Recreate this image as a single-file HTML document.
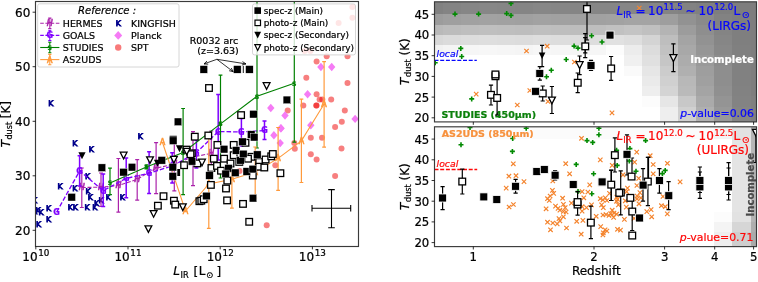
<!DOCTYPE html><html><head><meta charset="utf-8"><title>Tdust</title><style>html,body{margin:0;padding:0;background:#fff}svg{display:block}</style></head><body><svg width="758" height="282" viewBox="0 0 758 282" font-family="'DejaVu Sans','Liberation Sans',sans-serif">
<rect width="758" height="282" fill="#fff"/>
<defs><clipPath id="cl"><rect x="35.5" y="1.5" width="323.0" height="245.0"/></clipPath></defs>
<g clip-path="url(#cl)">
<circle cx="352.4" cy="7.1" r="3.0" fill="#f00000" fill-opacity="0.50"/>
<circle cx="352.4" cy="17.7" r="3.0" fill="#f00000" fill-opacity="0.50"/>
<circle cx="338.6" cy="23.0" r="3.0" fill="#f00000" fill-opacity="0.50"/>
<circle cx="304.6" cy="51.0" r="3.0" fill="#f00000" fill-opacity="0.50"/>
<circle cx="310.4" cy="51.0" r="3.0" fill="#f00000" fill-opacity="0.50"/>
<circle cx="326.7" cy="56.3" r="3.0" fill="#f00000" fill-opacity="0.50"/>
<circle cx="347.5" cy="56.3" r="3.0" fill="#f00000" fill-opacity="0.50"/>
<circle cx="316.6" cy="61.6" r="3.0" fill="#f00000" fill-opacity="0.50"/>
<circle cx="306.3" cy="77.8" r="3.0" fill="#f00000" fill-opacity="0.50"/>
<circle cx="347.5" cy="83.1" r="3.0" fill="#f00000" fill-opacity="0.50"/>
<circle cx="316.6" cy="94.2" r="3.0" fill="#f00000" fill-opacity="0.50"/>
<circle cx="319.6" cy="99.5" r="3.0" fill="#f00000" fill-opacity="0.50"/>
<circle cx="322.3" cy="99.5" r="3.0" fill="#f00000" fill-opacity="0.50"/>
<circle cx="331.2" cy="99.5" r="3.0" fill="#f00000" fill-opacity="0.50"/>
<circle cx="303.3" cy="105.4" r="3.0" fill="#f00000" fill-opacity="0.50"/>
<circle cx="316.6" cy="105.4" r="3.0" fill="#f00000" fill-opacity="0.50"/>
<circle cx="316.2" cy="105.6" r="3.0" fill="#f00000" fill-opacity="0.50"/>
<circle cx="287.7" cy="110.5" r="3.0" fill="#f00000" fill-opacity="0.50"/>
<circle cx="344.8" cy="110.5" r="3.0" fill="#f00000" fill-opacity="0.50"/>
<circle cx="341.8" cy="121.7" r="3.0" fill="#f00000" fill-opacity="0.50"/>
<circle cx="335.1" cy="127.0" r="3.0" fill="#f00000" fill-opacity="0.50"/>
<circle cx="310.8" cy="137.7" r="3.0" fill="#f00000" fill-opacity="0.50"/>
<circle cx="322.0" cy="137.7" r="3.0" fill="#f00000" fill-opacity="0.50"/>
<circle cx="294.3" cy="143.0" r="3.0" fill="#f00000" fill-opacity="0.50"/>
<circle cx="294.8" cy="148.7" r="3.0" fill="#f00000" fill-opacity="0.50"/>
<circle cx="341.5" cy="148.4" r="3.0" fill="#f00000" fill-opacity="0.50"/>
<circle cx="310.8" cy="154.2" r="3.0" fill="#f00000" fill-opacity="0.50"/>
<circle cx="316.6" cy="159.4" r="3.0" fill="#f00000" fill-opacity="0.50"/>
<circle cx="275.3" cy="165.2" r="3.0" fill="#f00000" fill-opacity="0.50"/>
<circle cx="335.1" cy="176.0" r="3.0" fill="#f00000" fill-opacity="0.50"/>
<circle cx="239.6" cy="171.0" r="3.0" fill="#f00000" fill-opacity="0.50"/>
<circle cx="266.7" cy="225.2" r="3.0" fill="#f00000" fill-opacity="0.50"/>
<path d="M320.9 62.8l3.7 4.2l-3.7 4.2l-3.7 -4.2z" fill="#f57bf5"/>
<path d="M331.7 62.8l3.7 4.2l-3.7 4.2l-3.7 -4.2z" fill="#f57bf5"/>
<path d="M307.6 90.0l3.7 4.2l-3.7 4.2l-3.7 -4.2z" fill="#f57bf5"/>
<path d="M270.8 103.8l3.7 4.2l-3.7 4.2l-3.7 -4.2z" fill="#f57bf5"/>
<path d="M285.0 111.3l3.7 4.2l-3.7 4.2l-3.7 -4.2z" fill="#f57bf5"/>
<path d="M281.0 124.0l3.7 4.2l-3.7 4.2l-3.7 -4.2z" fill="#f57bf5"/>
<path d="M310.8 121.0l3.7 4.2l-3.7 4.2l-3.7 -4.2z" fill="#f57bf5"/>
<path d="M355.1 114.7l3.7 4.2l-3.7 4.2l-3.7 -4.2z" fill="#f57bf5"/>
<path d="M273.9 131.1l3.7 4.2l-3.7 4.2l-3.7 -4.2z" fill="#f57bf5"/>
<path d="M280.2 138.9l3.7 4.2l-3.7 4.2l-3.7 -4.2z" fill="#f57bf5"/>
<path d="M280.8 124.2l3.7 4.2l-3.7 4.2l-3.7 -4.2z" fill="#f57bf5"/>
<text x="50.7" y="105.6" font-size="7.8" fill="#00008b" stroke="#00008b" stroke-width="0.85" text-anchor="middle">K</text>
<text x="74.7" y="146.2" font-size="7.8" fill="#00008b" stroke="#00008b" stroke-width="0.85" text-anchor="middle">K</text>
<text x="91.2" y="152.3" font-size="7.8" fill="#00008b" stroke="#00008b" stroke-width="0.85" text-anchor="middle">K</text>
<text x="87.6" y="178.8" font-size="7.8" fill="#00008b" stroke="#00008b" stroke-width="0.85" text-anchor="middle">K</text>
<text x="60.0" y="189.4" font-size="7.8" fill="#00008b" stroke="#00008b" stroke-width="0.85" text-anchor="middle">K</text>
<text x="74.7" y="191.2" font-size="7.8" fill="#00008b" stroke="#00008b" stroke-width="0.85" text-anchor="middle">K</text>
<text x="88.0" y="194.3" font-size="7.8" fill="#00008b" stroke="#00008b" stroke-width="0.85" text-anchor="middle">K</text>
<text x="90.3" y="200.3" font-size="7.8" fill="#00008b" stroke="#00008b" stroke-width="0.85" text-anchor="middle">K</text>
<text x="101.0" y="203.2" font-size="7.8" fill="#00008b" stroke="#00008b" stroke-width="0.85" text-anchor="middle">K</text>
<text x="108.4" y="200.2" font-size="7.8" fill="#00008b" stroke="#00008b" stroke-width="0.85" text-anchor="middle">K</text>
<text x="122.2" y="199.7" font-size="7.8" fill="#00008b" stroke="#00008b" stroke-width="0.85" text-anchor="middle">K</text>
<text x="96.5" y="206.2" font-size="7.8" fill="#00008b" stroke="#00008b" stroke-width="0.85" text-anchor="middle">K</text>
<text x="94.7" y="209.5" font-size="7.8" fill="#00008b" stroke="#00008b" stroke-width="0.85" text-anchor="middle">K</text>
<text x="87.0" y="210.4" font-size="7.8" fill="#00008b" stroke="#00008b" stroke-width="0.85" text-anchor="middle">K</text>
<text x="75.2" y="209.9" font-size="7.8" fill="#00008b" stroke="#00008b" stroke-width="0.85" text-anchor="middle">K</text>
<text x="70.2" y="210.4" font-size="7.8" fill="#00008b" stroke="#00008b" stroke-width="0.85" text-anchor="middle">K</text>
<text x="48.6" y="210.8" font-size="7.8" fill="#00008b" stroke="#00008b" stroke-width="0.85" text-anchor="middle">K</text>
<text x="48.6" y="221.5" font-size="7.8" fill="#00008b" stroke="#00008b" stroke-width="0.85" text-anchor="middle">K</text>
<text x="41.0" y="215.0" font-size="7.8" fill="#00008b" stroke="#00008b" stroke-width="0.85" text-anchor="middle">K</text>
<text x="38.0" y="213.2" font-size="7.8" fill="#00008b" stroke="#00008b" stroke-width="0.85" text-anchor="middle">K</text>
<text x="38.5" y="227.4" font-size="7.8" fill="#00008b" stroke="#00008b" stroke-width="0.85" text-anchor="middle">K</text>
<text x="140.4" y="138.8" font-size="7.8" fill="#00008b" stroke="#00008b" stroke-width="0.85" text-anchor="middle">K</text>
<text x="34.6" y="203.4" font-size="7.8" fill="#00008b" stroke="#00008b" stroke-width="0.85" text-anchor="middle">K</text>
<text x="34.6" y="213.7" font-size="7.8" fill="#00008b" stroke="#00008b" stroke-width="0.85" text-anchor="middle">K</text>
<polyline points="81.8,187.5 101.0,187.2 118.4,185.5 137.2,179.3 156.1,168.2 174.3,164.0 193.0,157.0 211.3,153.3" fill="none" stroke="#aa22aa" stroke-width="1.1" stroke-dasharray="4 1.7"/>
<path d="M81.8 168.0V207.5 M79.8 168.0h4.0 M79.8 207.5h4.0" stroke="#aa22aa" stroke-width="1.20" fill="none"/>
<path d="M101.0 173.0V206.5 M99.0 173.0h4.0 M99.0 206.5h4.0" stroke="#aa22aa" stroke-width="1.20" fill="none"/>
<path d="M118.4 158.5V212.2 M116.4 158.5h4.0 M116.4 212.2h4.0" stroke="#aa22aa" stroke-width="1.20" fill="none"/>
<path d="M137.2 159.7V200.2 M135.2 159.7h4.0 M135.2 200.2h4.0" stroke="#aa22aa" stroke-width="1.20" fill="none"/>
<path d="M156.1 142.6V193.7 M154.1 142.6h4.0 M154.1 193.7h4.0" stroke="#aa22aa" stroke-width="1.20" fill="none"/>
<path d="M174.3 138.0V190.9 M172.3 138.0h4.0 M172.3 190.9h4.0" stroke="#aa22aa" stroke-width="1.20" fill="none"/>
<path d="M193.0 131.6V185.7 M191.0 131.6h4.0 M191.0 185.7h4.0" stroke="#aa22aa" stroke-width="1.20" fill="none"/>
<path d="M211.3 131.0V176.0 M209.3 131.0h4.0 M209.3 176.0h4.0" stroke="#aa22aa" stroke-width="1.20" fill="none"/>
<text x="81.8" y="190.4" font-size="8.0" font-style="italic" fill="#aa22aa" stroke="#aa22aa" stroke-width="0.55" text-anchor="middle">H</text>
<text x="101.0" y="190.1" font-size="8.0" font-style="italic" fill="#aa22aa" stroke="#aa22aa" stroke-width="0.55" text-anchor="middle">H</text>
<text x="118.4" y="188.4" font-size="8.0" font-style="italic" fill="#aa22aa" stroke="#aa22aa" stroke-width="0.55" text-anchor="middle">H</text>
<text x="137.2" y="182.2" font-size="8.0" font-style="italic" fill="#aa22aa" stroke="#aa22aa" stroke-width="0.55" text-anchor="middle">H</text>
<text x="156.1" y="171.1" font-size="8.0" font-style="italic" fill="#aa22aa" stroke="#aa22aa" stroke-width="0.55" text-anchor="middle">H</text>
<text x="174.3" y="166.9" font-size="8.0" font-style="italic" fill="#aa22aa" stroke="#aa22aa" stroke-width="0.55" text-anchor="middle">H</text>
<text x="193.0" y="159.9" font-size="8.0" font-style="italic" fill="#aa22aa" stroke="#aa22aa" stroke-width="0.55" text-anchor="middle">H</text>
<text x="211.3" y="156.2" font-size="8.0" font-style="italic" fill="#aa22aa" stroke="#aa22aa" stroke-width="0.55" text-anchor="middle">H</text>
<polyline points="56.6,212.2 79.6,171.0 103.2,190.6 126.2,178.4 149.1,173.2 172.2,166.0 196.4,152.6 218.2,131.6 241.4,131.9 264.5,130.5" fill="none" stroke="#7f00ff" stroke-width="1.3" stroke-dasharray="4.6 2"/>
<path d="M79.6 155.7V186.0 M77.6 155.7h4.0 M77.6 186.0h4.0" stroke="#7f00ff" stroke-width="1.50" fill="none"/>
<path d="M103.2 174.0V206.5 M101.2 174.0h4.0 M101.2 206.5h4.0" stroke="#7f00ff" stroke-width="1.50" fill="none"/>
<path d="M126.2 158.0V197.7 M124.2 158.0h4.0 M124.2 197.7h4.0" stroke="#7f00ff" stroke-width="1.50" fill="none"/>
<path d="M149.1 151.7V193.4 M147.1 151.7h4.0 M147.1 193.4h4.0" stroke="#7f00ff" stroke-width="1.50" fill="none"/>
<path d="M172.2 152.8V183.0 M170.2 152.8h4.0 M170.2 183.0h4.0" stroke="#7f00ff" stroke-width="1.50" fill="none"/>
<path d="M196.4 140.0V168.0 M194.4 140.0h4.0 M194.4 168.0h4.0" stroke="#7f00ff" stroke-width="1.50" fill="none"/>
<path d="M218.2 94.6V160.0 M216.2 94.6h4.0 M216.2 160.0h4.0" stroke="#7f00ff" stroke-width="1.50" fill="none"/>
<path d="M241.4 118.6V146.0 M239.4 118.6h4.0 M239.4 146.0h4.0" stroke="#7f00ff" stroke-width="1.50" fill="none"/>
<path d="M264.5 120.9V139.4 M262.5 120.9h4.0 M262.5 139.4h4.0" stroke="#7f00ff" stroke-width="1.50" fill="none"/>
<text x="56.6" y="215.1" font-size="8" font-weight="bold" fill="#7f00ff" text-anchor="middle" stroke="#7f00ff" stroke-width="0.22">G</text>
<text x="79.6" y="173.9" font-size="8" font-weight="bold" fill="#7f00ff" text-anchor="middle" stroke="#7f00ff" stroke-width="0.22">G</text>
<text x="103.2" y="193.5" font-size="8" font-weight="bold" fill="#7f00ff" text-anchor="middle" stroke="#7f00ff" stroke-width="0.22">G</text>
<text x="126.2" y="181.3" font-size="8" font-weight="bold" fill="#7f00ff" text-anchor="middle" stroke="#7f00ff" stroke-width="0.22">G</text>
<text x="149.1" y="176.1" font-size="8" font-weight="bold" fill="#7f00ff" text-anchor="middle" stroke="#7f00ff" stroke-width="0.22">G</text>
<text x="172.2" y="168.9" font-size="8" font-weight="bold" fill="#7f00ff" text-anchor="middle" stroke="#7f00ff" stroke-width="0.22">G</text>
<text x="196.4" y="155.5" font-size="8" font-weight="bold" fill="#7f00ff" text-anchor="middle" stroke="#7f00ff" stroke-width="0.22">G</text>
<text x="218.2" y="134.5" font-size="8" font-weight="bold" fill="#7f00ff" text-anchor="middle" stroke="#7f00ff" stroke-width="0.22">G</text>
<text x="241.4" y="134.8" font-size="8" font-weight="bold" fill="#7f00ff" text-anchor="middle" stroke="#7f00ff" stroke-width="0.22">G</text>
<text x="264.5" y="133.4" font-size="8" font-weight="bold" fill="#7f00ff" text-anchor="middle" stroke="#7f00ff" stroke-width="0.22">G</text>
<polyline points="110.0,182.9 146.4,167.1 183.1,152.5 220.5,123.9 257.0,96.3 294.3,83.2" fill="none" stroke="#008000" stroke-width="1.1"/>
<path d="M110.0 168.2V194.6 M108.1 168.2h3.8 M108.1 194.6h3.8" stroke="#008000" stroke-width="1.20" fill="none"/>
<path d="M146.4 165.0V169.0 M144.5 165.0h3.8 M144.5 169.0h3.8" stroke="#008000" stroke-width="1.20" fill="none"/>
<path d="M183.1 108.5V194.6 M181.2 108.5h3.8 M181.2 194.6h3.8" stroke="#008000" stroke-width="1.20" fill="none"/>
<path d="M220.5 75.1V178.0 M218.6 75.1h3.8 M218.6 178.0h3.8" stroke="#008000" stroke-width="1.20" fill="none"/>
<path d="M257.0 -5.0V148.0 M255.1 -5.0h3.8 M255.1 148.0h3.8" stroke="#008000" stroke-width="1.20" fill="none"/>
<path d="M294.3 -5.0V142.2 M292.4 -5.0h3.8 M292.4 142.2h3.8" stroke="#008000" stroke-width="1.20" fill="none"/>
<text x="110.0" y="185.2" font-size="6.2" font-weight="bold" fill="#008000" text-anchor="middle" stroke="#008000" stroke-width="0.22">S</text>
<text x="146.4" y="169.3" font-size="6.2" font-weight="bold" fill="#008000" text-anchor="middle" stroke="#008000" stroke-width="0.22">S</text>
<text x="183.1" y="154.8" font-size="6.2" font-weight="bold" fill="#008000" text-anchor="middle" stroke="#008000" stroke-width="0.22">S</text>
<text x="220.5" y="126.2" font-size="6.2" font-weight="bold" fill="#008000" text-anchor="middle" stroke="#008000" stroke-width="0.22">S</text>
<text x="257.0" y="98.5" font-size="6.2" font-weight="bold" fill="#008000" text-anchor="middle" stroke="#008000" stroke-width="0.22">S</text>
<text x="294.3" y="85.5" font-size="6.2" font-weight="bold" fill="#008000" text-anchor="middle" stroke="#008000" stroke-width="0.22">S</text>
<polyline points="162.5,142.5 185.5,211.0 208.8,184.0 231.9,179.3 255.2,172.0 278.1,158.4 301.4,140.9 324.1,104.0" fill="none" stroke="#ff9a3c" stroke-width="1.1"/>
<path d="M208.8 138.0V228.3 M206.9 138.0h3.8 M206.9 228.3h3.8" stroke="#ff9a3c" stroke-width="1.20" fill="none"/>
<path d="M231.9 172.0V208.1 M230.0 172.0h3.8 M230.0 208.1h3.8" stroke="#ff9a3c" stroke-width="1.20" fill="none"/>
<path d="M255.2 147.0V198.0 M253.3 147.0h3.8 M253.3 198.0h3.8" stroke="#ff9a3c" stroke-width="1.20" fill="none"/>
<path d="M278.1 127.5V190.4 M276.2 127.5h3.8 M276.2 190.4h3.8" stroke="#ff9a3c" stroke-width="1.20" fill="none"/>
<path d="M301.4 99.1V182.5 M299.5 99.1h3.8 M299.5 182.5h3.8" stroke="#ff9a3c" stroke-width="1.20" fill="none"/>
<path d="M324.1 61.6V147.1 M322.2 61.6h3.8 M322.2 147.1h3.8" stroke="#ff9a3c" stroke-width="1.20" fill="none"/>
<text x="162.5" y="145.4" font-size="8" fill="#ff9a3c" stroke="#ff9a3c" stroke-width="0.6" text-anchor="middle">A</text>
<text x="185.5" y="213.9" font-size="8" fill="#ff9a3c" stroke="#ff9a3c" stroke-width="0.6" text-anchor="middle">A</text>
<text x="208.8" y="186.9" font-size="8" fill="#ff9a3c" stroke="#ff9a3c" stroke-width="0.6" text-anchor="middle">A</text>
<text x="231.9" y="182.2" font-size="8" fill="#ff9a3c" stroke="#ff9a3c" stroke-width="0.6" text-anchor="middle">A</text>
<text x="255.2" y="174.9" font-size="8" fill="#ff9a3c" stroke="#ff9a3c" stroke-width="0.6" text-anchor="middle">A</text>
<text x="278.1" y="161.3" font-size="8" fill="#ff9a3c" stroke="#ff9a3c" stroke-width="0.6" text-anchor="middle">A</text>
<text x="301.4" y="143.8" font-size="8" fill="#ff9a3c" stroke="#ff9a3c" stroke-width="0.6" text-anchor="middle">A</text>
<text x="324.1" y="106.9" font-size="8" fill="#ff9a3c" stroke="#ff9a3c" stroke-width="0.6" text-anchor="middle">A</text>
<rect x="205.7" y="84.7" width="6.6" height="6.6" fill="#fff" stroke="#000" stroke-width="1.3"/>
<rect x="237.8" y="111.8" width="6.6" height="6.6" fill="#fff" stroke="#000" stroke-width="1.3"/>
<rect x="191.5" y="133.4" width="6.6" height="6.6" fill="#fff" stroke="#000" stroke-width="1.3"/>
<rect x="205.0" y="132.2" width="6.6" height="6.6" fill="#fff" stroke="#000" stroke-width="1.3"/>
<rect x="214.1" y="141.6" width="6.6" height="6.6" fill="#fff" stroke="#000" stroke-width="1.3"/>
<rect x="230.4" y="141.6" width="6.6" height="6.6" fill="#fff" stroke="#000" stroke-width="1.3"/>
<rect x="183.2" y="146.3" width="6.6" height="6.6" fill="#fff" stroke="#000" stroke-width="1.3"/>
<rect x="242.2" y="139.5" width="6.6" height="6.6" fill="#fff" stroke="#000" stroke-width="1.3"/>
<rect x="210.5" y="155.4" width="6.6" height="6.6" fill="#fff" stroke="#000" stroke-width="1.3"/>
<rect x="220.8" y="155.4" width="6.6" height="6.6" fill="#fff" stroke="#000" stroke-width="1.3"/>
<rect x="208.1" y="164.7" width="6.6" height="6.6" fill="#fff" stroke="#000" stroke-width="1.3"/>
<rect x="213.7" y="162.6" width="6.6" height="6.6" fill="#fff" stroke="#000" stroke-width="1.3"/>
<rect x="230.4" y="151.9" width="6.6" height="6.6" fill="#fff" stroke="#000" stroke-width="1.3"/>
<rect x="236.0" y="158.6" width="6.6" height="6.6" fill="#fff" stroke="#000" stroke-width="1.3"/>
<rect x="248.0" y="153.5" width="6.6" height="6.6" fill="#fff" stroke="#000" stroke-width="1.3"/>
<rect x="255.9" y="158.6" width="6.6" height="6.6" fill="#fff" stroke="#000" stroke-width="1.3"/>
<rect x="262.3" y="156.2" width="6.6" height="6.6" fill="#fff" stroke="#000" stroke-width="1.3"/>
<rect x="267.9" y="153.0" width="6.6" height="6.6" fill="#fff" stroke="#000" stroke-width="1.3"/>
<rect x="269.5" y="150.7" width="6.6" height="6.6" fill="#fff" stroke="#000" stroke-width="1.3"/>
<rect x="255.9" y="163.4" width="6.6" height="6.6" fill="#fff" stroke="#000" stroke-width="1.3"/>
<rect x="261.0" y="164.2" width="6.6" height="6.6" fill="#fff" stroke="#000" stroke-width="1.3"/>
<rect x="249.5" y="172.2" width="6.6" height="6.6" fill="#fff" stroke="#000" stroke-width="1.3"/>
<rect x="224.0" y="177.3" width="6.6" height="6.6" fill="#fff" stroke="#000" stroke-width="1.3"/>
<rect x="207.6" y="181.6" width="6.6" height="6.6" fill="#fff" stroke="#000" stroke-width="1.3"/>
<rect x="244.7" y="155.4" width="6.6" height="6.6" fill="#fff" stroke="#000" stroke-width="1.3"/>
<rect x="217.7" y="167.4" width="6.6" height="6.6" fill="#fff" stroke="#000" stroke-width="1.3"/>
<rect x="227.2" y="160.2" width="6.6" height="6.6" fill="#fff" stroke="#000" stroke-width="1.3"/>
<rect x="222.7" y="185.2" width="6.6" height="6.6" fill="#fff" stroke="#000" stroke-width="1.3"/>
<rect x="277.1" y="169.9" width="6.6" height="6.6" fill="#fff" stroke="#000" stroke-width="1.3"/>
<rect x="188.5" y="150.0" width="6.6" height="6.6" fill="#fff" stroke="#000" stroke-width="1.3"/>
<rect x="180.8" y="161.9" width="6.6" height="6.6" fill="#fff" stroke="#000" stroke-width="1.3"/>
<rect x="194.0" y="160.1" width="6.6" height="6.6" fill="#fff" stroke="#000" stroke-width="1.3"/>
<rect x="160.2" y="192.9" width="6.6" height="6.6" fill="#fff" stroke="#000" stroke-width="1.3"/>
<rect x="154.6" y="202.4" width="6.6" height="6.6" fill="#fff" stroke="#000" stroke-width="1.3"/>
<rect x="170.6" y="197.4" width="6.6" height="6.6" fill="#fff" stroke="#000" stroke-width="1.3"/>
<rect x="171.9" y="201.3" width="6.6" height="6.6" fill="#fff" stroke="#000" stroke-width="1.3"/>
<rect x="196.1" y="197.9" width="6.6" height="6.6" fill="#fff" stroke="#000" stroke-width="1.3"/>
<rect x="198.0" y="197.4" width="6.6" height="6.6" fill="#fff" stroke="#000" stroke-width="1.3"/>
<rect x="200.4" y="195.9" width="6.6" height="6.6" fill="#fff" stroke="#000" stroke-width="1.3"/>
<rect x="223.8" y="197.1" width="6.6" height="6.6" fill="#fff" stroke="#000" stroke-width="1.3"/>
<rect x="239.7" y="200.6" width="6.6" height="6.6" fill="#fff" stroke="#000" stroke-width="1.3"/>
<rect x="245.9" y="218.5" width="6.6" height="6.6" fill="#fff" stroke="#000" stroke-width="1.3"/>
<rect x="200.0" y="65.6" width="7.6" height="7.6" fill="#000" stroke="#fff" stroke-width="0.4"/>
<rect x="233.5" y="65.6" width="7.6" height="7.6" fill="#000" stroke="#fff" stroke-width="0.4"/>
<rect x="245.6" y="65.6" width="7.6" height="7.6" fill="#000" stroke="#fff" stroke-width="0.4"/>
<rect x="174.2" y="118.0" width="7.6" height="7.6" fill="#000" stroke="#fff" stroke-width="0.4"/>
<rect x="169.4" y="135.6" width="7.6" height="7.6" fill="#000" stroke="#fff" stroke-width="0.4"/>
<rect x="283.1" y="96.1" width="7.6" height="7.6" fill="#000" stroke="#fff" stroke-width="0.4"/>
<rect x="249.7" y="110.4" width="7.6" height="7.6" fill="#000" stroke="#fff" stroke-width="0.4"/>
<rect x="247.4" y="130.8" width="7.6" height="7.6" fill="#000" stroke="#fff" stroke-width="0.4"/>
<rect x="250.4" y="133.4" width="7.6" height="7.6" fill="#000" stroke="#fff" stroke-width="0.4"/>
<rect x="236.6" y="156.5" width="7.6" height="7.6" fill="#000" stroke="#fff" stroke-width="0.4"/>
<rect x="238.7" y="138.0" width="7.6" height="7.6" fill="#000" stroke="#fff" stroke-width="0.4"/>
<rect x="220.3" y="145.4" width="7.6" height="7.6" fill="#000" stroke="#fff" stroke-width="0.4"/>
<rect x="232.3" y="146.6" width="7.6" height="7.6" fill="#000" stroke="#fff" stroke-width="0.4"/>
<rect x="239.5" y="150.2" width="7.6" height="7.6" fill="#000" stroke="#fff" stroke-width="0.4"/>
<rect x="253.5" y="150.9" width="7.6" height="7.6" fill="#000" stroke="#fff" stroke-width="0.4"/>
<rect x="224.8" y="164.5" width="7.6" height="7.6" fill="#000" stroke="#fff" stroke-width="0.4"/>
<rect x="221.9" y="170.1" width="7.6" height="7.6" fill="#000" stroke="#fff" stroke-width="0.4"/>
<rect x="231.5" y="169.0" width="7.6" height="7.6" fill="#000" stroke="#fff" stroke-width="0.4"/>
<rect x="205.7" y="171.7" width="7.6" height="7.6" fill="#000" stroke="#fff" stroke-width="0.4"/>
<rect x="243.0" y="167.7" width="7.6" height="7.6" fill="#000" stroke="#fff" stroke-width="0.4"/>
<rect x="249.0" y="165.3" width="7.6" height="7.6" fill="#000" stroke="#fff" stroke-width="0.4"/>
<rect x="188.0" y="157.5" width="7.6" height="7.6" fill="#000" stroke="#fff" stroke-width="0.4"/>
<rect x="67.9" y="193.4" width="7.6" height="7.6" fill="#000" stroke="#fff" stroke-width="0.4"/>
<rect x="98.1" y="163.9" width="7.6" height="7.6" fill="#000" stroke="#fff" stroke-width="0.4"/>
<rect x="128.2" y="163.4" width="7.6" height="7.6" fill="#000" stroke="#fff" stroke-width="0.4"/>
<rect x="119.8" y="168.4" width="7.6" height="7.6" fill="#000" stroke="#fff" stroke-width="0.4"/>
<rect x="158.0" y="156.5" width="7.6" height="7.6" fill="#000" stroke="#fff" stroke-width="0.4"/>
<rect x="169.0" y="163.4" width="7.6" height="7.6" fill="#000" stroke="#fff" stroke-width="0.4"/>
<rect x="169.0" y="172.5" width="7.6" height="7.6" fill="#000" stroke="#fff" stroke-width="0.4"/>
<rect x="169.4" y="136.9" width="7.6" height="7.6" fill="#000" stroke="#fff" stroke-width="0.4"/>
<rect x="188.2" y="157.5" width="7.6" height="7.6" fill="#000" stroke="#fff" stroke-width="0.4"/>
<rect x="202.6" y="192.2" width="7.6" height="7.6" fill="#000" stroke="#fff" stroke-width="0.4"/>
<rect x="249.2" y="194.4" width="7.6" height="7.6" fill="#000" stroke="#fff" stroke-width="0.4"/>
<rect x="177.3" y="169" width="2.8" height="7" fill="#000"/>
<rect x="187.2" y="150.9" width="6.6" height="6.6" fill="#fff" stroke="#000" stroke-width="1.3"/>
<line x1="243.3" x2="243.3" y1="65.8" y2="73" stroke="#000" stroke-width="0.9"/>
<path d="M120.2 152.2h6.8l-3.4 6.6z" fill="#fff" stroke="#000" stroke-width="1.3" stroke-linejoin="miter"/>
<path d="M146.6 156.8h6.8l-3.4 6.6z" fill="#fff" stroke="#000" stroke-width="1.3" stroke-linejoin="miter"/>
<path d="M170.5 156.4h6.8l-3.4 6.6z" fill="#fff" stroke="#000" stroke-width="1.3" stroke-linejoin="miter"/>
<path d="M183.3 148.3h6.8l-3.4 6.6z" fill="#fff" stroke="#000" stroke-width="1.3" stroke-linejoin="miter"/>
<path d="M198.6 159.2h6.8l-3.4 6.6z" fill="#fff" stroke="#000" stroke-width="1.3" stroke-linejoin="miter"/>
<path d="M263.2 82.7h6.8l-3.4 6.6z" fill="#fff" stroke="#000" stroke-width="1.3" stroke-linejoin="miter"/>
<path d="M179.4 203.9h6.8l-3.4 6.6z" fill="#fff" stroke="#000" stroke-width="1.3" stroke-linejoin="miter"/>
<path d="M150.2 210.6h6.8l-3.4 6.6z" fill="#fff" stroke="#000" stroke-width="1.3" stroke-linejoin="miter"/>
<path d="M145.0 225.8h6.8l-3.4 6.6z" fill="#fff" stroke="#000" stroke-width="1.3" stroke-linejoin="miter"/>
<path d="M78.4 152.2h7.2l-3.6 7.0z" fill="#000"/>
<path d="M175.9 145.2h7.2l-3.6 7.0z" fill="#000"/>
<path d="M153.9 159.7h7.2l-3.6 7.0z" fill="#000"/>
<path d="M312 208.3H350.7 M331.5 189.6V227.8 M312 205V211.6 M350.7 205V211.6 M328.2 189.6h6.6 M328.2 227.8h6.6" stroke="#000" stroke-width="1.1" fill="none"/>
</g>
<rect x="35.5" y="1.5" width="323.0" height="245.0" fill="none" stroke="#3a3a3a" stroke-width="1.15"/>
<line x1="32.6" x2="35.5" y1="230.3" y2="230.3" stroke="#000" stroke-width="0.8"/>
<text x="30.3" y="234.9" font-size="12" text-anchor="end" stroke="#000" stroke-width="0.22">20</text>
<line x1="32.6" x2="35.5" y1="175.8" y2="175.8" stroke="#000" stroke-width="0.8"/>
<text x="30.3" y="180.4" font-size="12" text-anchor="end" stroke="#000" stroke-width="0.22">30</text>
<line x1="32.6" x2="35.5" y1="121.3" y2="121.3" stroke="#000" stroke-width="0.8"/>
<text x="30.3" y="125.9" font-size="12" text-anchor="end" stroke="#000" stroke-width="0.22">40</text>
<line x1="32.6" x2="35.5" y1="66.7" y2="66.7" stroke="#000" stroke-width="0.8"/>
<text x="30.3" y="71.3" font-size="12" text-anchor="end" stroke="#000" stroke-width="0.22">50</text>
<line x1="32.6" x2="35.5" y1="12.2" y2="12.2" stroke="#000" stroke-width="0.8"/>
<text x="30.3" y="16.8" font-size="12" text-anchor="end" stroke="#000" stroke-width="0.22">60</text>
<line x1="35.8" x2="35.8" y1="246.5" y2="249.4" stroke="#000" stroke-width="0.8"/>
<text x="35.8" y="260.7" font-size="12" text-anchor="middle" stroke="#000" stroke-width="0.22">10<tspan font-size="8.8" dy="-4.7" dx="0.6">10</tspan></text>
<line x1="128.0" x2="128.0" y1="246.5" y2="249.4" stroke="#000" stroke-width="0.8"/>
<text x="128.0" y="260.7" font-size="12" text-anchor="middle" stroke="#000" stroke-width="0.22">10<tspan font-size="8.8" dy="-4.7" dx="0.6">11</tspan></text>
<line x1="220.2" x2="220.2" y1="246.5" y2="249.4" stroke="#000" stroke-width="0.8"/>
<text x="220.2" y="260.7" font-size="12" text-anchor="middle" stroke="#000" stroke-width="0.22">10<tspan font-size="8.8" dy="-4.7" dx="0.6">12</tspan></text>
<line x1="312.4" x2="312.4" y1="246.5" y2="249.4" stroke="#000" stroke-width="0.8"/>
<text x="312.4" y="260.7" font-size="12" text-anchor="middle" stroke="#000" stroke-width="0.22">10<tspan font-size="8.8" dy="-4.7" dx="0.6">13</tspan></text>
<text y="275.4" font-size="12" stroke="#000" stroke-width="0.22"><tspan x="173.3" font-style="italic">L</tspan><tspan x="180.5" y="277.6" font-size="8.2">IR</tspan><tspan x="193.4" y="276.2" font-size="12">[</tspan><tspan x="198.7" y="275.4">L</tspan><tspan x="205.9" y="278.2" font-size="8.6">⊙</tspan><tspan x="216.4" y="276.2" font-size="12">]</tspan></text>
<g transform="translate(10.2,147.6) rotate(-90)"><text font-size="12.4" stroke="#000" stroke-width="0.22"><tspan x="0" y="0" font-style="italic">T</tspan><tspan x="8.0" y="1.5" font-size="8.2">dust</tspan><tspan x="29.4" y="0" font-size="12">[K]</tspan></text></g>
<text x="214" y="43.8" font-size="9.5" text-anchor="middle" stroke="#000" stroke-width="0.22">R0032 arc</text>
<text x="218" y="53.9" font-size="9.5" text-anchor="middle" stroke="#000" stroke-width="0.22">(z=3.63)</text>
<path d="M216.9 59.3L204.0 63.9 M207.0 61.0L204.0 63.9L208.2 64.2" fill="none" stroke="#000" stroke-width="0.80"/>
<path d="M216.9 59.3L233.2 71.7 M229.1 70.7L233.2 71.7L231.2 68.0" fill="none" stroke="#000" stroke-width="0.80"/>
<path d="M216.9 59.3L246.0 63.9 M241.9 65.0L246.0 63.9L242.5 61.6" fill="none" stroke="#000" stroke-width="0.80"/>
<rect x="37.7" y="3.8" width="141.3" height="63.2" rx="2" fill="#fff" fill-opacity="0.8" stroke="#ccc" stroke-width="0.8"/>
<text x="107" y="13.7" font-size="10.1" font-style="italic" text-anchor="middle" stroke="#000" stroke-width="0.22">Reference :</text>
<line x1="40.2" x2="59.4" y1="23.3" y2="23.3" stroke="#aa22aa" stroke-width="1.1" stroke-dasharray="3.6 1.6"/>
<path d="M49.8 18.1V28.5 M48.2 18.1h3.2 M48.2 28.5h3.2" stroke="#aa22aa" stroke-width="1.1" fill="none"/>
<text x="62.8" y="26.7" font-size="9.45" stroke="#000" stroke-width="0.22">HERMES</text>
<line x1="40.2" x2="59.4" y1="35.4" y2="35.4" stroke="#7f00ff" stroke-width="1.1" stroke-dasharray="3.6 1.6"/>
<path d="M49.8 30.2V40.6 M48.2 30.2h3.2 M48.2 40.6h3.2" stroke="#7f00ff" stroke-width="1.1" fill="none"/>
<text x="62.8" y="38.8" font-size="9.45" stroke="#000" stroke-width="0.22">GOALS</text>
<line x1="40.2" x2="59.4" y1="47.5" y2="47.5" stroke="#008000" stroke-width="1.1"/>
<path d="M49.8 42.3V52.7 M48.2 42.3h3.2 M48.2 52.7h3.2" stroke="#008000" stroke-width="1.1" fill="none"/>
<text x="62.8" y="50.9" font-size="9.45" stroke="#000" stroke-width="0.22">STUDIES</text>
<line x1="40.2" x2="59.4" y1="59.6" y2="59.6" stroke="#ff9a3c" stroke-width="1.1"/>
<path d="M49.8 54.4V64.8 M48.2 54.4h3.2 M48.2 64.8h3.2" stroke="#ff9a3c" stroke-width="1.1" fill="none"/>
<text x="62.8" y="63.0" font-size="9.45" stroke="#000" stroke-width="0.22">AS2UDS</text>
<text x="49.8" y="26.2" font-size="8.0" font-style="italic" fill="#aa22aa" stroke="#aa22aa" stroke-width="0.55" text-anchor="middle">H</text>
<text x="49.8" y="38.3" font-size="8" font-weight="bold" fill="#7f00ff" text-anchor="middle" stroke="#7f00ff" stroke-width="0.22">G</text>
<text x="49.8" y="49.8" font-size="6.2" font-weight="bold" fill="#008000" text-anchor="middle" stroke="#008000" stroke-width="0.22">S</text>
<text x="49.8" y="62.5" font-size="8" fill="#ff9a3c" stroke="#ff9a3c" stroke-width="0.6" text-anchor="middle">A</text>
<text x="118.2" y="26.2" font-size="7.8" fill="#00008b" stroke="#00008b" stroke-width="0.85" text-anchor="middle">K</text>
<path d="M118.2 31.1l4 4.3l-4 4.3l-4 -4.3z" fill="#f57bf5"/>
<circle cx="118.2" cy="47.5" r="3.2" fill="#f87a7a"/>
<text x="131.1" y="26.7" font-size="9.45" stroke="#000" stroke-width="0.22">KINGFISH</text>
<text x="131.1" y="38.8" font-size="9.45" stroke="#000" stroke-width="0.22">Planck</text>
<text x="131.1" y="50.9" font-size="9.45" stroke="#000" stroke-width="0.22">SPT</text>
<rect x="252.5" y="3.9" width="103" height="51" rx="2" fill="#fff" fill-opacity="0.8" stroke="#ccc" stroke-width="0.8"/>
<text x="263.7" y="13.9" font-size="8.9" stroke="#000" stroke-width="0.22">spec-z (Main)</text>
<text x="263.7" y="26.1" font-size="8.9" stroke="#000" stroke-width="0.22">photo-z (Main)</text>
<text x="263.7" y="38.3" font-size="8.9" stroke="#000" stroke-width="0.22">spec-z (Secondary)</text>
<text x="263.7" y="50.5" font-size="8.9" stroke="#000" stroke-width="0.22">photo-z (Secondary)</text>
<rect x="254.4" y="7.3" width="6.6" height="6.6" fill="#000"/>
<rect x="255.0" y="20.1" width="5.5" height="5.5" fill="#fff" stroke="#000" stroke-width="1.2"/>
<path d="M254.3 31.8h6.8l-3.4 6.8z" fill="#000"/>
<path d="M254.8 44.6h5.8l-2.9 5.8z" fill="#fff" stroke="#000" stroke-width="1.2"/>
<defs><clipPath id="ct"><rect x="434.5" y="1.8" width="322.0" height="120.1"/></clipPath><clipPath id="cb"><rect x="434.5" y="126.8" width="322.0" height="119.8"/></clipPath></defs>
<g clip-path="url(#ct)" shape-rendering="crispEdges">
<rect x="424.7" y="1.8" width="18.2" height="12.4" fill="rgb(129,129,129)"/>
<rect x="442.8" y="1.8" width="18.2" height="12.4" fill="rgb(132,132,132)"/>
<rect x="460.9" y="1.8" width="18.2" height="12.4" fill="rgb(134,134,134)"/>
<rect x="479.0" y="1.8" width="18.2" height="12.4" fill="rgb(135,135,135)"/>
<rect x="497.1" y="1.8" width="18.2" height="12.4" fill="rgb(134,134,134)"/>
<rect x="515.2" y="1.8" width="18.2" height="12.4" fill="rgb(133,133,133)"/>
<rect x="533.3" y="1.8" width="18.2" height="12.4" fill="rgb(135,135,135)"/>
<rect x="551.4" y="1.8" width="18.2" height="12.4" fill="rgb(134,134,134)"/>
<rect x="569.5" y="1.8" width="18.2" height="12.4" fill="rgb(133,133,133)"/>
<rect x="587.6" y="1.8" width="18.2" height="12.4" fill="rgb(134,134,134)"/>
<rect x="605.7" y="1.8" width="18.2" height="12.4" fill="rgb(134,134,134)"/>
<rect x="623.8" y="1.8" width="18.2" height="12.4" fill="rgb(134,134,134)"/>
<rect x="641.9" y="1.8" width="18.2" height="12.4" fill="rgb(134,134,134)"/>
<rect x="660.0" y="1.8" width="18.2" height="12.4" fill="rgb(132,132,132)"/>
<rect x="678.1" y="1.8" width="18.2" height="12.4" fill="rgb(130,130,130)"/>
<rect x="696.2" y="1.8" width="18.2" height="12.4" fill="rgb(128,128,128)"/>
<rect x="714.3" y="1.8" width="18.2" height="12.4" fill="rgb(126,126,126)"/>
<rect x="732.4" y="1.8" width="18.2" height="12.4" fill="rgb(126,126,126)"/>
<rect x="750.5" y="1.8" width="18.2" height="12.4" fill="rgb(126,126,126)"/>
<rect x="424.7" y="14.1" width="18.2" height="10.5" fill="rgb(156,156,156)"/>
<rect x="442.8" y="14.1" width="18.2" height="10.5" fill="rgb(159,159,159)"/>
<rect x="460.9" y="14.1" width="18.2" height="10.5" fill="rgb(161,161,161)"/>
<rect x="479.0" y="14.1" width="18.2" height="10.5" fill="rgb(162,162,162)"/>
<rect x="497.1" y="14.1" width="18.2" height="10.5" fill="rgb(161,161,161)"/>
<rect x="515.2" y="14.1" width="18.2" height="10.5" fill="rgb(160,160,160)"/>
<rect x="533.3" y="14.1" width="18.2" height="10.5" fill="rgb(162,162,162)"/>
<rect x="551.4" y="14.1" width="18.2" height="10.5" fill="rgb(161,161,161)"/>
<rect x="569.5" y="14.1" width="18.2" height="10.5" fill="rgb(160,160,160)"/>
<rect x="587.6" y="14.1" width="18.2" height="10.5" fill="rgb(161,161,161)"/>
<rect x="605.7" y="14.1" width="18.2" height="10.5" fill="rgb(162,162,162)"/>
<rect x="623.8" y="14.1" width="18.2" height="10.5" fill="rgb(164,164,164)"/>
<rect x="641.9" y="14.1" width="18.2" height="10.5" fill="rgb(164,164,164)"/>
<rect x="660.0" y="14.1" width="18.2" height="10.5" fill="rgb(158,158,158)"/>
<rect x="678.1" y="14.1" width="18.2" height="10.5" fill="rgb(146,146,146)"/>
<rect x="696.2" y="14.1" width="18.2" height="10.5" fill="rgb(138,138,138)"/>
<rect x="714.3" y="14.1" width="18.2" height="10.5" fill="rgb(130,130,130)"/>
<rect x="732.4" y="14.1" width="18.2" height="10.5" fill="rgb(127,127,127)"/>
<rect x="750.5" y="14.1" width="18.2" height="10.5" fill="rgb(126,126,126)"/>
<rect x="424.7" y="24.5" width="18.2" height="10.3" fill="rgb(185,185,185)"/>
<rect x="442.8" y="24.5" width="18.2" height="10.3" fill="rgb(188,188,188)"/>
<rect x="460.9" y="24.5" width="18.2" height="10.3" fill="rgb(190,190,190)"/>
<rect x="479.0" y="24.5" width="18.2" height="10.3" fill="rgb(191,191,191)"/>
<rect x="497.1" y="24.5" width="18.2" height="10.3" fill="rgb(190,190,190)"/>
<rect x="515.2" y="24.5" width="18.2" height="10.3" fill="rgb(189,189,189)"/>
<rect x="533.3" y="24.5" width="18.2" height="10.3" fill="rgb(191,191,191)"/>
<rect x="551.4" y="24.5" width="18.2" height="10.3" fill="rgb(190,190,190)"/>
<rect x="569.5" y="24.5" width="18.2" height="10.3" fill="rgb(189,189,189)"/>
<rect x="587.6" y="24.5" width="18.2" height="10.3" fill="rgb(190,190,190)"/>
<rect x="605.7" y="24.5" width="18.2" height="10.3" fill="rgb(193,193,193)"/>
<rect x="623.8" y="24.5" width="18.2" height="10.3" fill="rgb(196,196,196)"/>
<rect x="641.9" y="24.5" width="18.2" height="10.3" fill="rgb(192,192,192)"/>
<rect x="660.0" y="24.5" width="18.2" height="10.3" fill="rgb(180,180,180)"/>
<rect x="678.1" y="24.5" width="18.2" height="10.3" fill="rgb(156,156,156)"/>
<rect x="696.2" y="24.5" width="18.2" height="10.3" fill="rgb(142,142,142)"/>
<rect x="714.3" y="24.5" width="18.2" height="10.3" fill="rgb(132,132,132)"/>
<rect x="732.4" y="24.5" width="18.2" height="10.3" fill="rgb(127,127,127)"/>
<rect x="750.5" y="24.5" width="18.2" height="10.3" fill="rgb(126,126,126)"/>
<rect x="424.7" y="34.7" width="18.2" height="10.3" fill="rgb(216,216,216)"/>
<rect x="442.8" y="34.7" width="18.2" height="10.3" fill="rgb(219,219,219)"/>
<rect x="460.9" y="34.7" width="18.2" height="10.3" fill="rgb(221,221,221)"/>
<rect x="479.0" y="34.7" width="18.2" height="10.3" fill="rgb(222,222,222)"/>
<rect x="497.1" y="34.7" width="18.2" height="10.3" fill="rgb(221,221,221)"/>
<rect x="515.2" y="34.7" width="18.2" height="10.3" fill="rgb(220,220,220)"/>
<rect x="533.3" y="34.7" width="18.2" height="10.3" fill="rgb(222,222,222)"/>
<rect x="551.4" y="34.7" width="18.2" height="10.3" fill="rgb(221,221,221)"/>
<rect x="569.5" y="34.7" width="18.2" height="10.3" fill="rgb(220,220,220)"/>
<rect x="587.6" y="34.7" width="18.2" height="10.3" fill="rgb(221,221,221)"/>
<rect x="605.7" y="34.7" width="18.2" height="10.3" fill="rgb(225,225,225)"/>
<rect x="623.8" y="34.7" width="18.2" height="10.3" fill="rgb(222,222,222)"/>
<rect x="641.9" y="34.7" width="18.2" height="10.3" fill="rgb(212,212,212)"/>
<rect x="660.0" y="34.7" width="18.2" height="10.3" fill="rgb(190,190,190)"/>
<rect x="678.1" y="34.7" width="18.2" height="10.3" fill="rgb(164,164,164)"/>
<rect x="696.2" y="34.7" width="18.2" height="10.3" fill="rgb(146,146,146)"/>
<rect x="714.3" y="34.7" width="18.2" height="10.3" fill="rgb(134,134,134)"/>
<rect x="732.4" y="34.7" width="18.2" height="10.3" fill="rgb(127,127,127)"/>
<rect x="750.5" y="34.7" width="18.2" height="10.3" fill="rgb(126,126,126)"/>
<rect x="424.7" y="44.9" width="18.2" height="10.4" fill="rgb(241,241,241)"/>
<rect x="442.8" y="44.9" width="18.2" height="10.4" fill="rgb(244,244,244)"/>
<rect x="460.9" y="44.9" width="18.2" height="10.4" fill="rgb(246,246,246)"/>
<rect x="479.0" y="44.9" width="18.2" height="10.4" fill="rgb(247,247,247)"/>
<rect x="497.1" y="44.9" width="18.2" height="10.4" fill="rgb(246,246,246)"/>
<rect x="515.2" y="44.9" width="18.2" height="10.4" fill="rgb(245,245,245)"/>
<rect x="533.3" y="44.9" width="18.2" height="10.4" fill="rgb(247,247,247)"/>
<rect x="551.4" y="44.9" width="18.2" height="10.4" fill="rgb(246,246,246)"/>
<rect x="569.5" y="44.9" width="18.2" height="10.4" fill="rgb(245,245,245)"/>
<rect x="587.6" y="44.9" width="18.2" height="10.4" fill="rgb(246,246,246)"/>
<rect x="605.7" y="44.9" width="18.2" height="10.4" fill="rgb(252,252,252)"/>
<rect x="623.8" y="44.9" width="18.2" height="10.4" fill="rgb(236,236,236)"/>
<rect x="641.9" y="44.9" width="18.2" height="10.4" fill="rgb(220,220,220)"/>
<rect x="660.0" y="44.9" width="18.2" height="10.4" fill="rgb(194,194,194)"/>
<rect x="678.1" y="44.9" width="18.2" height="10.4" fill="rgb(168,168,168)"/>
<rect x="696.2" y="44.9" width="18.2" height="10.4" fill="rgb(150,150,150)"/>
<rect x="714.3" y="44.9" width="18.2" height="10.4" fill="rgb(136,136,136)"/>
<rect x="732.4" y="44.9" width="18.2" height="10.4" fill="rgb(128,128,128)"/>
<rect x="750.5" y="44.9" width="18.2" height="10.4" fill="rgb(126,126,126)"/>
<rect x="623.8" y="55.2" width="18.2" height="10.4" fill="rgb(240,240,240)"/>
<rect x="641.9" y="55.2" width="18.2" height="10.4" fill="rgb(224,224,224)"/>
<rect x="660.0" y="55.2" width="18.2" height="10.4" fill="rgb(198,198,198)"/>
<rect x="678.1" y="55.2" width="18.2" height="10.4" fill="rgb(172,172,172)"/>
<rect x="696.2" y="55.2" width="18.2" height="10.4" fill="rgb(154,154,154)"/>
<rect x="714.3" y="55.2" width="18.2" height="10.4" fill="rgb(140,140,140)"/>
<rect x="732.4" y="55.2" width="18.2" height="10.4" fill="rgb(129,129,129)"/>
<rect x="750.5" y="55.2" width="18.2" height="10.4" fill="rgb(126,126,126)"/>
<rect x="623.8" y="65.5" width="18.2" height="10.4" fill="rgb(250,250,250)"/>
<rect x="641.9" y="65.5" width="18.2" height="10.4" fill="rgb(230,230,230)"/>
<rect x="660.0" y="65.5" width="18.2" height="10.4" fill="rgb(204,204,204)"/>
<rect x="678.1" y="65.5" width="18.2" height="10.4" fill="rgb(176,176,176)"/>
<rect x="696.2" y="65.5" width="18.2" height="10.4" fill="rgb(158,158,158)"/>
<rect x="714.3" y="65.5" width="18.2" height="10.4" fill="rgb(142,142,142)"/>
<rect x="732.4" y="65.5" width="18.2" height="10.4" fill="rgb(129,129,129)"/>
<rect x="750.5" y="65.5" width="18.2" height="10.4" fill="rgb(126,126,126)"/>
<rect x="641.9" y="75.8" width="18.2" height="10.4" fill="rgb(234,234,234)"/>
<rect x="660.0" y="75.8" width="18.2" height="10.4" fill="rgb(208,208,208)"/>
<rect x="678.1" y="75.8" width="18.2" height="10.4" fill="rgb(184,184,184)"/>
<rect x="696.2" y="75.8" width="18.2" height="10.4" fill="rgb(160,160,160)"/>
<rect x="714.3" y="75.8" width="18.2" height="10.4" fill="rgb(142,142,142)"/>
<rect x="732.4" y="75.8" width="18.2" height="10.4" fill="rgb(129,129,129)"/>
<rect x="750.5" y="75.8" width="18.2" height="10.4" fill="rgb(126,126,126)"/>
<rect x="641.9" y="86.1" width="18.2" height="10.4" fill="rgb(238,238,238)"/>
<rect x="660.0" y="86.1" width="18.2" height="10.4" fill="rgb(212,212,212)"/>
<rect x="678.1" y="86.1" width="18.2" height="10.4" fill="rgb(186,186,186)"/>
<rect x="696.2" y="86.1" width="18.2" height="10.4" fill="rgb(164,164,164)"/>
<rect x="714.3" y="86.1" width="18.2" height="10.4" fill="rgb(144,144,144)"/>
<rect x="732.4" y="86.1" width="18.2" height="10.4" fill="rgb(130,130,130)"/>
<rect x="750.5" y="86.1" width="18.2" height="10.4" fill="rgb(126,126,126)"/>
<rect x="641.9" y="96.4" width="18.2" height="10.4" fill="rgb(252,252,252)"/>
<rect x="660.0" y="96.4" width="18.2" height="10.4" fill="rgb(230,230,230)"/>
<rect x="678.1" y="96.4" width="18.2" height="10.4" fill="rgb(200,200,200)"/>
<rect x="696.2" y="96.4" width="18.2" height="10.4" fill="rgb(170,170,170)"/>
<rect x="714.3" y="96.4" width="18.2" height="10.4" fill="rgb(148,148,148)"/>
<rect x="732.4" y="96.4" width="18.2" height="10.4" fill="rgb(131,131,131)"/>
<rect x="750.5" y="96.4" width="18.2" height="10.4" fill="rgb(128,128,128)"/>
<rect x="660.0" y="106.7" width="18.2" height="10.4" fill="rgb(238,238,238)"/>
<rect x="678.1" y="106.7" width="18.2" height="10.4" fill="rgb(208,208,208)"/>
<rect x="696.2" y="106.7" width="18.2" height="10.4" fill="rgb(176,176,176)"/>
<rect x="714.3" y="106.7" width="18.2" height="10.4" fill="rgb(152,152,152)"/>
<rect x="732.4" y="106.7" width="18.2" height="10.4" fill="rgb(133,133,133)"/>
<rect x="750.5" y="106.7" width="18.2" height="10.4" fill="rgb(128,128,128)"/>
<rect x="660.0" y="117.0" width="18.2" height="10.4" fill="rgb(238,238,238)"/>
<rect x="678.1" y="117.0" width="18.2" height="10.4" fill="rgb(208,208,208)"/>
<rect x="696.2" y="117.0" width="18.2" height="10.4" fill="rgb(176,176,176)"/>
<rect x="714.3" y="117.0" width="18.2" height="10.4" fill="rgb(152,152,152)"/>
<rect x="732.4" y="117.0" width="18.2" height="10.4" fill="rgb(133,133,133)"/>
<rect x="750.5" y="117.0" width="18.2" height="10.4" fill="rgb(128,128,128)"/>
</g>
<g clip-path="url(#cb)" shape-rendering="crispEdges">
<rect x="434.5" y="126.8" width="322.0" height="12.3" fill="#fbfbfb"/>
<rect x="714.3" y="127.1" width="18.2" height="12.1" fill="rgb(244,244,244)"/>
<rect x="732.4" y="127.1" width="18.2" height="12.1" fill="rgb(226,226,226)"/>
<rect x="750.5" y="127.1" width="18.2" height="12.1" fill="rgb(180,180,180)"/>
<rect x="732.4" y="139.1" width="18.2" height="10.4" fill="rgb(228,228,228)"/>
<rect x="750.5" y="139.1" width="18.2" height="10.4" fill="rgb(182,182,182)"/>
<rect x="732.4" y="149.4" width="18.2" height="10.5" fill="rgb(228,228,228)"/>
<rect x="750.5" y="149.4" width="18.2" height="10.5" fill="rgb(182,182,182)"/>
<rect x="732.4" y="159.8" width="18.2" height="10.4" fill="rgb(228,228,228)"/>
<rect x="750.5" y="159.8" width="18.2" height="10.4" fill="rgb(182,182,182)"/>
<rect x="732.4" y="170.1" width="18.2" height="10.5" fill="rgb(228,228,228)"/>
<rect x="750.5" y="170.1" width="18.2" height="10.5" fill="rgb(182,182,182)"/>
<rect x="732.4" y="180.5" width="18.2" height="10.4" fill="rgb(228,228,228)"/>
<rect x="750.5" y="180.5" width="18.2" height="10.4" fill="rgb(182,182,182)"/>
<rect x="732.4" y="190.8" width="18.2" height="10.5" fill="rgb(228,228,228)"/>
<rect x="750.5" y="190.8" width="18.2" height="10.5" fill="rgb(182,182,182)"/>
<rect x="732.4" y="201.2" width="18.2" height="10.4" fill="rgb(228,228,228)"/>
<rect x="750.5" y="201.2" width="18.2" height="10.4" fill="rgb(182,182,182)"/>
<rect x="714.3" y="211.5" width="18.2" height="10.5" fill="rgb(252,252,252)"/>
<rect x="732.4" y="211.5" width="18.2" height="10.5" fill="rgb(226,226,226)"/>
<rect x="750.5" y="211.5" width="18.2" height="10.5" fill="rgb(180,180,180)"/>
<rect x="714.3" y="221.9" width="18.2" height="10.4" fill="rgb(244,244,244)"/>
<rect x="732.4" y="221.9" width="18.2" height="10.4" fill="rgb(214,214,214)"/>
<rect x="750.5" y="221.9" width="18.2" height="10.4" fill="rgb(174,174,174)"/>
<rect x="714.3" y="232.2" width="18.2" height="10.5" fill="rgb(238,238,238)"/>
<rect x="732.4" y="232.2" width="18.2" height="10.5" fill="rgb(206,206,206)"/>
<rect x="750.5" y="232.2" width="18.2" height="10.5" fill="rgb(170,170,170)"/>
<rect x="714.3" y="242.6" width="18.2" height="10.4" fill="rgb(238,238,238)"/>
<rect x="732.4" y="242.6" width="18.2" height="10.4" fill="rgb(206,206,206)"/>
<rect x="750.5" y="242.6" width="18.2" height="10.4" fill="rgb(170,170,170)"/>
</g>
<g clip-path="url(#ct)">
<path d="M508.5 3.4h5.0 M511.0 0.9v5.0" stroke="#028a02" stroke-width="1.6" fill="none"/>
<path d="M452.5 14.1h5.0 M455.0 11.6v5.0" stroke="#028a02" stroke-width="1.6" fill="none"/>
<path d="M476.1 14.1h5.0 M478.6 11.6v5.0" stroke="#028a02" stroke-width="1.6" fill="none"/>
<path d="M504.2 13.6h5.0 M506.7 11.1v5.0" stroke="#028a02" stroke-width="1.6" fill="none"/>
<path d="M508.5 15.4h5.0 M511.0 12.9v5.0" stroke="#028a02" stroke-width="1.6" fill="none"/>
<path d="M458.3 48.4h5.0 M460.8 45.9v5.0" stroke="#028a02" stroke-width="1.6" fill="none"/>
<path d="M459.2 56.5h5.0 M461.7 54.0v5.0" stroke="#028a02" stroke-width="1.6" fill="none"/>
<path d="M432.7 62.8h5.0 M435.2 60.3v5.0" stroke="#028a02" stroke-width="1.6" fill="none"/>
<path d="M589.1 35.8h5.0 M591.6 33.3v5.0" stroke="#028a02" stroke-width="1.6" fill="none"/>
<path d="M571.6 46.1h5.0 M574.1 43.6v5.0" stroke="#028a02" stroke-width="1.6" fill="none"/>
<path d="M575.5 48.1h5.0 M578.0 45.6v5.0" stroke="#028a02" stroke-width="1.6" fill="none"/>
<path d="M563.7 59.5h5.0 M566.2 57.0v5.0" stroke="#028a02" stroke-width="1.6" fill="none"/>
<path d="M469.2 98.9h5.0 M471.7 96.4v5.0" stroke="#028a02" stroke-width="1.6" fill="none"/>
<path d="M548.8 70.2h5.0 M551.3 67.7v5.0" stroke="#028a02" stroke-width="1.6" fill="none"/>
<path d="M544.0 76.8h5.0 M546.5 74.3v5.0" stroke="#028a02" stroke-width="1.6" fill="none"/>
<path d="M599.5 42.0h5.0 M602.0 39.5v5.0" stroke="#028a02" stroke-width="1.6" fill="none"/>
<path d="M524.3 48.8l4.4 4.4 M524.3 53.2l4.4 -4.4" stroke="#f4842e" stroke-width="1.2" fill="none"/>
<path d="M545.0 44.0l4.4 4.4 M545.0 48.4l4.4 -4.4" stroke="#f4842e" stroke-width="1.2" fill="none"/>
<path d="M572.2 59.8l4.4 4.4 M572.2 64.2l4.4 -4.4" stroke="#f4842e" stroke-width="1.2" fill="none"/>
<path d="M474.0 91.9l4.4 4.4 M474.0 96.3l4.4 -4.4" stroke="#f4842e" stroke-width="1.2" fill="none"/>
<path d="M515.1 102.8l4.4 4.4 M515.1 107.2l4.4 -4.4" stroke="#f4842e" stroke-width="1.2" fill="none"/>
<path d="M527.6 88.3l4.4 4.4 M527.6 92.7l4.4 -4.4" stroke="#f4842e" stroke-width="1.2" fill="none"/>
<path d="M545.8 99.3l4.4 4.4 M545.8 103.7l4.4 -4.4" stroke="#f4842e" stroke-width="1.2" fill="none"/>
<path d="M637.1 5.8l4.4 4.4 M637.1 10.2l4.4 -4.4" stroke="#f4842e" stroke-width="1.2" fill="none"/>
<path d="M609.8 110.7l4.4 4.4 M609.8 115.1l4.4 -4.4" stroke="#f4842e" stroke-width="1.2" fill="none"/>
<line x1="434.5" x2="476.8" y1="60.4" y2="60.4" stroke="#0606ff" stroke-width="1.3" stroke-dasharray="4 1.7"/>
<text x="436.6" y="57.2" font-size="9.3" font-style="italic" fill="#0606ff" stroke="#0606ff" stroke-width="0.22">local</text>
<text x="441.5" y="117.5" font-size="9.5" font-weight="bold" fill="#0b800b" stroke="#0b800b" stroke-width="0.22">STUDIES (450μm)</text>
<path d="M542.1 45.4V66.7 M540.0 45.4h4.2 M540.0 66.7h4.2" stroke="#000" stroke-width="1.20" fill="none"/>
<path d="M539.8 66.7V80.2 M537.7 66.7h4.2 M537.7 80.2h4.2" stroke="#000" stroke-width="1.20" fill="none"/>
<path d="M491.0 85.1V105.0 M488.9 85.1h4.2 M488.9 105.0h4.2" stroke="#000" stroke-width="1.20" fill="none"/>
<path d="M497.1 75.5V115.0 M495.0 75.5h4.2 M495.0 115.0h4.2" stroke="#000" stroke-width="1.20" fill="none"/>
<path d="M542.7 86.0V101.0 M540.6 86.0h4.2 M540.6 101.0h4.2" stroke="#000" stroke-width="1.20" fill="none"/>
<path d="M551.9 86.5V113.5 M549.8 86.5h4.2 M549.8 113.5h4.2" stroke="#000" stroke-width="1.20" fill="none"/>
<path d="M587.0 -3.0V40.0 M584.9 -3.0h4.2 M584.9 40.0h4.2" stroke="#000" stroke-width="1.20" fill="none"/>
<path d="M585.2 33.7V57.7 M583.1 33.7h4.2 M583.1 57.7h4.2" stroke="#000" stroke-width="1.20" fill="none"/>
<path d="M585.2 37.6V52.8 M583.1 37.6h4.2 M583.1 52.8h4.2" stroke="#000" stroke-width="1.20" fill="none"/>
<path d="M579.6 56.0V74.6 M577.5 56.0h4.2 M577.5 74.6h4.2" stroke="#000" stroke-width="1.20" fill="none"/>
<path d="M591.0 60.4V70.5 M588.9 60.4h4.2 M588.9 70.5h4.2" stroke="#000" stroke-width="1.20" fill="none"/>
<path d="M611.1 56.5V80.4 M609.0 56.5h4.2 M609.0 80.4h4.2" stroke="#000" stroke-width="1.20" fill="none"/>
<path d="M577.7 73.0V92.7 M575.6 73.0h4.2 M575.6 92.7h4.2" stroke="#000" stroke-width="1.20" fill="none"/>
<path d="M673.4 43.8V71.7 M671.3 43.8h4.2 M671.3 71.7h4.2" stroke="#000" stroke-width="1.20" fill="none"/>
<rect x="492.1" y="72.9" width="6.7" height="6.7" fill="#fff" stroke="#000" stroke-width="1.3"/>
<rect x="492.1" y="71.1" width="6.7" height="6.7" fill="#fff" stroke="#000" stroke-width="1.3"/>
<rect x="487.6" y="91.5" width="6.7" height="6.7" fill="#fff" stroke="#000" stroke-width="1.3"/>
<rect x="493.8" y="94.6" width="6.7" height="6.7" fill="#fff" stroke="#000" stroke-width="1.3"/>
<rect x="539.4" y="90.1" width="6.7" height="6.7" fill="#fff" stroke="#000" stroke-width="1.3"/>
<rect x="583.6" y="5.6" width="6.7" height="6.7" fill="#fff" stroke="#000" stroke-width="1.3"/>
<rect x="581.9" y="43.0" width="6.7" height="6.7" fill="#fff" stroke="#000" stroke-width="1.3"/>
<rect x="607.8" y="65.1" width="6.7" height="6.7" fill="#fff" stroke="#000" stroke-width="1.3"/>
<rect x="574.4" y="79.4" width="6.7" height="6.7" fill="#fff" stroke="#000" stroke-width="1.3"/>
<rect x="535.8" y="69.4" width="8.0" height="8.0" fill="#000" stroke="#fff" stroke-width="0.8"/>
<rect x="531.6" y="87.3" width="8.0" height="8.0" fill="#000" stroke="#fff" stroke-width="0.8"/>
<rect x="587.0" y="61.5" width="8.0" height="8.0" fill="#000" stroke="#fff" stroke-width="0.8"/>
<rect x="606.0" y="31.1" width="8.0" height="8.0" fill="#000" stroke="#fff" stroke-width="0.8"/>
<path d="M538.8 52.5h6.6l-3.3 6.4z" fill="#000"/>
<path d="M548.4 97.1h7.0l-3.5 6.8z" fill="#fff" stroke="#000" stroke-width="1.3"/>
<path d="M576.1 61.7h7.0l-3.5 6.8z" fill="#fff" stroke="#000" stroke-width="1.3"/>
<path d="M669.9 54.7h7.0l-3.5 6.8z" fill="#e8e8e8" stroke="#000" stroke-width="1.3"/>
</g>
<text font-size="12" fill="#0606ff" stroke="#0606ff" stroke-width="0.22"><tspan x="616.6" y="15.0" font-style="italic">L</tspan><tspan x="623.3" y="17.6" font-size="8.4">IR</tspan><tspan x="635.6" y="15.0">=</tspan><tspan x="648" y="15.0">10</tspan><tspan x="663.6" y="10.4" font-size="8.6">11.5</tspan><tspan x="685.6" y="15.0">~</tspan><tspan x="698.6" y="15.0">10</tspan><tspan x="714.2" y="10.4" font-size="8.6">12.0</tspan><tspan x="733.6" y="15.0">L</tspan><tspan x="741.8" y="18.0" font-size="9.6">⊙</tspan></text>
<text x="751" y="29.5" font-size="12" text-anchor="end" fill="#0606ff" stroke="#0606ff" stroke-width="0.22">(LIRGs)</text>
<text x="690.2" y="62.6" font-size="10.1" font-weight="bold" fill="#fff" stroke="#fff" stroke-width="0.22">Incomplete</text>
<text x="753.9" y="116.8" font-size="10.9" text-anchor="end" fill="#0606ff" stroke="#0606ff" stroke-width="0.22"><tspan font-style="italic">p</tspan>-value=0.06</text>
<g clip-path="url(#cb)">
<path d="M523.7 128.2h5.0 M526.2 125.7v5.0" stroke="#028a02" stroke-width="1.6" fill="none"/>
<path d="M596.4 128.2h5.0 M598.9 125.7v5.0" stroke="#028a02" stroke-width="1.6" fill="none"/>
<path d="M596.4 134.8h5.0 M598.9 132.3v5.0" stroke="#028a02" stroke-width="1.6" fill="none"/>
<path d="M584.5 140.6h5.0 M587.0 138.1v5.0" stroke="#028a02" stroke-width="1.6" fill="none"/>
<path d="M590.2 142.4h5.0 M592.7 139.9v5.0" stroke="#028a02" stroke-width="1.6" fill="none"/>
<path d="M573.7 164.4h5.0 M576.2 161.9v5.0" stroke="#028a02" stroke-width="1.6" fill="none"/>
<path d="M591.1 173.8h5.0 M593.6 171.3v5.0" stroke="#028a02" stroke-width="1.6" fill="none"/>
<path d="M614.7 165.4h5.0 M617.2 162.9v5.0" stroke="#028a02" stroke-width="1.6" fill="none"/>
<path d="M614.1 150.3h5.0 M616.6 147.8v5.0" stroke="#028a02" stroke-width="1.6" fill="none"/>
<path d="M509.9 151.4h5.0 M512.4 148.9v5.0" stroke="#028a02" stroke-width="1.6" fill="none"/>
<path d="M458.5 144.7h5.0 M461.0 142.2v5.0" stroke="#028a02" stroke-width="1.6" fill="none"/>
<path d="M510.2 138.5h5.0 M512.7 136.0v5.0" stroke="#028a02" stroke-width="1.6" fill="none"/>
<path d="M589.3 193.7h5.0 M591.8 191.2v5.0" stroke="#028a02" stroke-width="1.6" fill="none"/>
<path d="M575.5 191.6h5.0 M578.0 189.1v5.0" stroke="#028a02" stroke-width="1.6" fill="none"/>
<path d="M626.8 161.0h5.0 M629.3 158.5v5.0" stroke="#028a02" stroke-width="1.6" fill="none"/>
<path d="M633.5 171.3h5.0 M636.0 168.8v5.0" stroke="#028a02" stroke-width="1.6" fill="none"/>
<path d="M659.9 173.6h5.0 M662.4 171.1v5.0" stroke="#028a02" stroke-width="1.6" fill="none"/>
<path d="M662.7 170.4h5.0 M665.2 167.9v5.0" stroke="#028a02" stroke-width="1.6" fill="none"/>
<path d="M643.1 140.6h5.0 M645.6 138.1v5.0" stroke="#028a02" stroke-width="1.6" fill="none"/>
<path d="M627.4 148.6h5.0 M629.9 146.1v5.0" stroke="#028a02" stroke-width="1.6" fill="none"/>
<path d="M467.5 127.5h5.0 M470.0 125.0v5.0" stroke="#028a02" stroke-width="1.6" fill="none"/>
<path d="M579.3 136.1l4.4 4.4 M579.3 140.5l4.4 -4.4" stroke="#f4842e" stroke-width="1.2" fill="none"/>
<path d="M563.5 161.5l4.4 4.4 M563.5 165.9l4.4 -4.4" stroke="#f4842e" stroke-width="1.2" fill="none"/>
<path d="M598.1 157.7l4.4 4.4 M598.1 162.1l4.4 -4.4" stroke="#f4842e" stroke-width="1.2" fill="none"/>
<path d="M567.4 171.6l4.4 4.4 M567.4 176.0l4.4 -4.4" stroke="#f4842e" stroke-width="1.2" fill="none"/>
<path d="M610.0 163.2l4.4 4.4 M610.0 167.6l4.4 -4.4" stroke="#f4842e" stroke-width="1.2" fill="none"/>
<path d="M511.1 161.6l4.4 4.4 M511.1 166.0l4.4 -4.4" stroke="#f4842e" stroke-width="1.2" fill="none"/>
<path d="M506.7 174.0l4.4 4.4 M506.7 178.4l4.4 -4.4" stroke="#f4842e" stroke-width="1.2" fill="none"/>
<path d="M513.8 173.5l4.4 4.4 M513.8 177.9l4.4 -4.4" stroke="#f4842e" stroke-width="1.2" fill="none"/>
<path d="M521.8 179.4l4.4 4.4 M521.8 183.8l4.4 -4.4" stroke="#f4842e" stroke-width="1.2" fill="none"/>
<path d="M504.0 185.9l4.4 4.4 M504.0 190.3l4.4 -4.4" stroke="#f4842e" stroke-width="1.2" fill="none"/>
<path d="M506.9 204.8l4.4 4.4 M506.9 209.2l4.4 -4.4" stroke="#f4842e" stroke-width="1.2" fill="none"/>
<path d="M511.2 202.3l4.4 4.4 M511.2 206.7l4.4 -4.4" stroke="#f4842e" stroke-width="1.2" fill="none"/>
<path d="M550.6 178.8l4.4 4.4 M550.6 183.2l4.4 -4.4" stroke="#f4842e" stroke-width="1.2" fill="none"/>
<path d="M587.5 182.7l4.4 4.4 M587.5 187.1l4.4 -4.4" stroke="#f4842e" stroke-width="1.2" fill="none"/>
<path d="M550.2 188.2l4.4 4.4 M550.2 192.6l4.4 -4.4" stroke="#f4842e" stroke-width="1.2" fill="none"/>
<path d="M551.5 191.2l4.4 4.4 M551.5 195.6l4.4 -4.4" stroke="#f4842e" stroke-width="1.2" fill="none"/>
<path d="M547.9 193.8l4.4 4.4 M547.9 198.2l4.4 -4.4" stroke="#f4842e" stroke-width="1.2" fill="none"/>
<path d="M545.3 196.5l4.4 4.4 M545.3 200.9l4.4 -4.4" stroke="#f4842e" stroke-width="1.2" fill="none"/>
<path d="M547.1 198.3l4.4 4.4 M547.1 202.7l4.4 -4.4" stroke="#f4842e" stroke-width="1.2" fill="none"/>
<path d="M560.4 196.0l4.4 4.4 M560.4 200.4l4.4 -4.4" stroke="#f4842e" stroke-width="1.2" fill="none"/>
<path d="M543.9 206.6l4.4 4.4 M543.9 211.0l4.4 -4.4" stroke="#f4842e" stroke-width="1.2" fill="none"/>
<path d="M553.3 203.9l4.4 4.4 M553.3 208.3l4.4 -4.4" stroke="#f4842e" stroke-width="1.2" fill="none"/>
<path d="M555.9 206.2l4.4 4.4 M555.9 210.6l4.4 -4.4" stroke="#f4842e" stroke-width="1.2" fill="none"/>
<path d="M561.2 202.2l4.4 4.4 M561.2 206.6l4.4 -4.4" stroke="#f4842e" stroke-width="1.2" fill="none"/>
<path d="M563.0 205.4l4.4 4.4 M563.0 209.8l4.4 -4.4" stroke="#f4842e" stroke-width="1.2" fill="none"/>
<path d="M563.9 209.8l4.4 4.4 M563.9 214.2l4.4 -4.4" stroke="#f4842e" stroke-width="1.2" fill="none"/>
<path d="M557.7 208.0l4.4 4.4 M557.7 212.4l4.4 -4.4" stroke="#f4842e" stroke-width="1.2" fill="none"/>
<path d="M569.2 200.9l4.4 4.4 M569.2 205.3l4.4 -4.4" stroke="#f4842e" stroke-width="1.2" fill="none"/>
<path d="M579.9 189.4l4.4 4.4 M579.9 193.8l4.4 -4.4" stroke="#f4842e" stroke-width="1.2" fill="none"/>
<path d="M585.7 189.8l4.4 4.4 M585.7 194.2l4.4 -4.4" stroke="#f4842e" stroke-width="1.2" fill="none"/>
<path d="M581.6 195.6l4.4 4.4 M581.6 200.0l4.4 -4.4" stroke="#f4842e" stroke-width="1.2" fill="none"/>
<path d="M579.9 204.5l4.4 4.4 M579.9 208.9l4.4 -4.4" stroke="#f4842e" stroke-width="1.2" fill="none"/>
<path d="M584.3 205.4l4.4 4.4 M584.3 209.8l4.4 -4.4" stroke="#f4842e" stroke-width="1.2" fill="none"/>
<path d="M589.3 202.7l4.4 4.4 M589.3 207.1l4.4 -4.4" stroke="#f4842e" stroke-width="1.2" fill="none"/>
<path d="M598.1 196.5l4.4 4.4 M598.1 200.9l4.4 -4.4" stroke="#f4842e" stroke-width="1.2" fill="none"/>
<path d="M599.4 202.7l4.4 4.4 M599.4 207.1l4.4 -4.4" stroke="#f4842e" stroke-width="1.2" fill="none"/>
<path d="M601.1 205.4l4.4 4.4 M601.1 209.8l4.4 -4.4" stroke="#f4842e" stroke-width="1.2" fill="none"/>
<path d="M604.7 198.3l4.4 4.4 M604.7 202.7l4.4 -4.4" stroke="#f4842e" stroke-width="1.2" fill="none"/>
<path d="M610.0 208.0l4.4 4.4 M610.0 212.4l4.4 -4.4" stroke="#f4842e" stroke-width="1.2" fill="none"/>
<path d="M614.4 199.1l4.4 4.4 M614.4 203.5l4.4 -4.4" stroke="#f4842e" stroke-width="1.2" fill="none"/>
<path d="M616.2 202.7l4.4 4.4 M616.2 207.1l4.4 -4.4" stroke="#f4842e" stroke-width="1.2" fill="none"/>
<path d="M607.3 191.2l4.4 4.4 M607.3 195.6l4.4 -4.4" stroke="#f4842e" stroke-width="1.2" fill="none"/>
<path d="M579.9 208.9l4.4 4.4 M579.9 213.3l4.4 -4.4" stroke="#f4842e" stroke-width="1.2" fill="none"/>
<path d="M545.3 220.0l4.4 4.4 M545.3 224.4l4.4 -4.4" stroke="#f4842e" stroke-width="1.2" fill="none"/>
<path d="M548.3 227.6l4.4 4.4 M548.3 232.0l4.4 -4.4" stroke="#f4842e" stroke-width="1.2" fill="none"/>
<path d="M550.6 220.8l4.4 4.4 M550.6 225.2l4.4 -4.4" stroke="#f4842e" stroke-width="1.2" fill="none"/>
<path d="M555.0 221.7l4.4 4.4 M555.0 226.1l4.4 -4.4" stroke="#f4842e" stroke-width="1.2" fill="none"/>
<path d="M557.7 218.7l4.4 4.4 M557.7 223.1l4.4 -4.4" stroke="#f4842e" stroke-width="1.2" fill="none"/>
<path d="M556.8 216.4l4.4 4.4 M556.8 220.8l4.4 -4.4" stroke="#f4842e" stroke-width="1.2" fill="none"/>
<path d="M561.2 214.6l4.4 4.4 M561.2 219.0l4.4 -4.4" stroke="#f4842e" stroke-width="1.2" fill="none"/>
<path d="M561.2 209.3l4.4 4.4 M561.2 213.7l4.4 -4.4" stroke="#f4842e" stroke-width="1.2" fill="none"/>
<path d="M564.3 225.8l4.4 4.4 M564.3 230.2l4.4 -4.4" stroke="#f4842e" stroke-width="1.2" fill="none"/>
<path d="M574.5 219.1l4.4 4.4 M574.5 223.5l4.4 -4.4" stroke="#f4842e" stroke-width="1.2" fill="none"/>
<path d="M580.7 218.2l4.4 4.4 M580.7 222.6l4.4 -4.4" stroke="#f4842e" stroke-width="1.2" fill="none"/>
<path d="M579.0 232.0l4.4 4.4 M579.0 236.4l4.4 -4.4" stroke="#f4842e" stroke-width="1.2" fill="none"/>
<path d="M594.0 214.1l4.4 4.4 M594.0 218.5l4.4 -4.4" stroke="#f4842e" stroke-width="1.2" fill="none"/>
<path d="M598.5 224.4l4.4 4.4 M598.5 228.8l4.4 -4.4" stroke="#f4842e" stroke-width="1.2" fill="none"/>
<path d="M601.1 230.6l4.4 4.4 M601.1 235.0l4.4 -4.4" stroke="#f4842e" stroke-width="1.2" fill="none"/>
<path d="M602.9 227.6l4.4 4.4 M602.9 232.0l4.4 -4.4" stroke="#f4842e" stroke-width="1.2" fill="none"/>
<path d="M604.7 228.8l4.4 4.4 M604.7 233.2l4.4 -4.4" stroke="#f4842e" stroke-width="1.2" fill="none"/>
<path d="M600.8 212.8l4.4 4.4 M600.8 217.2l4.4 -4.4" stroke="#f4842e" stroke-width="1.2" fill="none"/>
<path d="M603.8 212.3l4.4 4.4 M603.8 216.7l4.4 -4.4" stroke="#f4842e" stroke-width="1.2" fill="none"/>
<path d="M606.8 213.3l4.4 4.4 M606.8 217.7l4.4 -4.4" stroke="#f4842e" stroke-width="1.2" fill="none"/>
<path d="M609.8 212.8l4.4 4.4 M609.8 217.2l4.4 -4.4" stroke="#f4842e" stroke-width="1.2" fill="none"/>
<path d="M611.8 210.8l4.4 4.4 M611.8 215.2l4.4 -4.4" stroke="#f4842e" stroke-width="1.2" fill="none"/>
<path d="M615.3 227.1l4.4 4.4 M615.3 231.5l4.4 -4.4" stroke="#f4842e" stroke-width="1.2" fill="none"/>
<path d="M614.4 212.0l4.4 4.4 M614.4 216.4l4.4 -4.4" stroke="#f4842e" stroke-width="1.2" fill="none"/>
<path d="M634.5 149.9l4.4 4.4 M634.5 154.3l4.4 -4.4" stroke="#f4842e" stroke-width="1.2" fill="none"/>
<path d="M648.0 153.5l4.4 4.4 M648.0 157.9l4.4 -4.4" stroke="#f4842e" stroke-width="1.2" fill="none"/>
<path d="M632.4 159.9l4.4 4.4 M632.4 164.3l4.4 -4.4" stroke="#f4842e" stroke-width="1.2" fill="none"/>
<path d="M651.0 162.3l4.4 4.4 M651.0 166.7l4.4 -4.4" stroke="#f4842e" stroke-width="1.2" fill="none"/>
<path d="M665.2 161.1l4.4 4.4 M665.2 165.5l4.4 -4.4" stroke="#f4842e" stroke-width="1.2" fill="none"/>
<path d="M651.0 171.7l4.4 4.4 M651.0 176.1l4.4 -4.4" stroke="#f4842e" stroke-width="1.2" fill="none"/>
<path d="M620.8 172.6l4.4 4.4 M620.8 177.0l4.4 -4.4" stroke="#f4842e" stroke-width="1.2" fill="none"/>
<path d="M636.5 176.2l4.4 4.4 M636.5 180.6l4.4 -4.4" stroke="#f4842e" stroke-width="1.2" fill="none"/>
<path d="M677.9 179.7l4.4 4.4 M677.9 184.1l4.4 -4.4" stroke="#f4842e" stroke-width="1.2" fill="none"/>
<path d="M634.7 183.3l4.4 4.4 M634.7 187.7l4.4 -4.4" stroke="#f4842e" stroke-width="1.2" fill="none"/>
<path d="M625.3 185.9l4.4 4.4 M625.3 190.3l4.4 -4.4" stroke="#f4842e" stroke-width="1.2" fill="none"/>
<path d="M624.4 189.5l4.4 4.4 M624.4 193.9l4.4 -4.4" stroke="#f4842e" stroke-width="1.2" fill="none"/>
<path d="M637.7 190.4l4.4 4.4 M637.7 194.8l4.4 -4.4" stroke="#f4842e" stroke-width="1.2" fill="none"/>
<path d="M635.0 193.9l4.4 4.4 M635.0 198.3l4.4 -4.4" stroke="#f4842e" stroke-width="1.2" fill="none"/>
<path d="M614.6 194.8l4.4 4.4 M614.6 199.2l4.4 -4.4" stroke="#f4842e" stroke-width="1.2" fill="none"/>
<path d="M603.1 195.7l4.4 4.4 M603.1 200.1l4.4 -4.4" stroke="#f4842e" stroke-width="1.2" fill="none"/>
<path d="M660.8 194.3l4.4 4.4 M660.8 198.7l4.4 -4.4" stroke="#f4842e" stroke-width="1.2" fill="none"/>
<path d="M608.5 211.3l4.4 4.4 M608.5 215.7l4.4 -4.4" stroke="#f4842e" stroke-width="1.2" fill="none"/>
<path d="M611.4 215.2l4.4 4.4 M611.4 219.6l4.4 -4.4" stroke="#f4842e" stroke-width="1.2" fill="none"/>
<path d="M600.7 232.8l4.4 4.4 M600.7 237.2l4.4 -4.4" stroke="#f4842e" stroke-width="1.2" fill="none"/>
<path d="M618.3 227.9l4.4 4.4 M618.3 232.3l4.4 -4.4" stroke="#f4842e" stroke-width="1.2" fill="none"/>
<path d="M622.2 217.2l4.4 4.4 M622.2 221.6l4.4 -4.4" stroke="#f4842e" stroke-width="1.2" fill="none"/>
<path d="M624.1 204.9l4.4 4.4 M624.1 209.3l4.4 -4.4" stroke="#f4842e" stroke-width="1.2" fill="none"/>
<path d="M631.9 216.2l4.4 4.4 M631.9 220.6l4.4 -4.4" stroke="#f4842e" stroke-width="1.2" fill="none"/>
<path d="M644.6 209.4l4.4 4.4 M644.6 213.8l4.4 -4.4" stroke="#f4842e" stroke-width="1.2" fill="none"/>
<path d="M648.9 207.4l4.4 4.4 M648.9 211.8l4.4 -4.4" stroke="#f4842e" stroke-width="1.2" fill="none"/>
<path d="M649.5 214.6l4.4 4.4 M649.5 219.0l4.4 -4.4" stroke="#f4842e" stroke-width="1.2" fill="none"/>
<path d="M659.2 203.5l4.4 4.4 M659.2 207.9l4.4 -4.4" stroke="#f4842e" stroke-width="1.2" fill="none"/>
<path d="M663.1 204.5l4.4 4.4 M663.1 208.9l4.4 -4.4" stroke="#f4842e" stroke-width="1.2" fill="none"/>
<path d="M665.1 211.7l4.4 4.4 M665.1 216.1l4.4 -4.4" stroke="#f4842e" stroke-width="1.2" fill="none"/>
<path d="M600.7 197.7l4.4 4.4 M600.7 202.1l4.4 -4.4" stroke="#f4842e" stroke-width="1.2" fill="none"/>
<path d="M615.3 197.1l4.4 4.4 M615.3 201.5l4.4 -4.4" stroke="#f4842e" stroke-width="1.2" fill="none"/>
<path d="M623.1 198.6l4.4 4.4 M623.1 203.0l4.4 -4.4" stroke="#f4842e" stroke-width="1.2" fill="none"/>
<path d="M634.8 196.7l4.4 4.4 M634.8 201.1l4.4 -4.4" stroke="#f4842e" stroke-width="1.2" fill="none"/>
<path d="M638.7 195.7l4.4 4.4 M638.7 200.1l4.4 -4.4" stroke="#f4842e" stroke-width="1.2" fill="none"/>
<path d="M636.8 201.6l4.4 4.4 M636.8 206.0l4.4 -4.4" stroke="#f4842e" stroke-width="1.2" fill="none"/>
<line x1="434.5" x2="477.2" y1="169.5" y2="169.5" stroke="#ff0808" stroke-width="1.3" stroke-dasharray="4 1.7"/>
<text x="436.6" y="166.8" font-size="9.3" font-style="italic" fill="#ff0808" stroke="#ff0808" stroke-width="0.22">local</text>
<path d="M462.3 169.1V194.0 M460.2 169.1h4.2 M460.2 194.0h4.2" stroke="#000" stroke-width="1.20" fill="none"/>
<path d="M442.6 186.7V209.6 M440.5 186.7h4.2 M440.5 209.6h4.2" stroke="#000" stroke-width="1.20" fill="none"/>
<path d="M515.6 179.3V193.1 M513.5 179.3h4.2 M513.5 193.1h4.2" stroke="#000" stroke-width="1.20" fill="none"/>
<path d="M614.9 137.8V172.0 M612.8 137.8h4.2 M612.8 172.0h4.2" stroke="#000" stroke-width="1.20" fill="none"/>
<path d="M627.0 134.8V175.0 M624.9 134.8h4.2 M624.9 175.0h4.2" stroke="#000" stroke-width="1.20" fill="none"/>
<path d="M632.0 158.0V176.0 M629.9 158.0h4.2 M629.9 176.0h4.2" stroke="#000" stroke-width="1.20" fill="none"/>
<path d="M611.2 170.4V200.5 M609.1 170.4h4.2 M609.1 200.5h4.2" stroke="#000" stroke-width="1.20" fill="none"/>
<path d="M620.7 170.9V214.9 M618.6 170.9h4.2 M618.6 214.9h4.2" stroke="#000" stroke-width="1.20" fill="none"/>
<path d="M647.9 157.4V205.7 M645.8 157.4h4.2 M645.8 205.7h4.2" stroke="#000" stroke-width="1.20" fill="none"/>
<path d="M643.0 168.6V201.2 M640.9 168.6h4.2 M640.9 201.2h4.2" stroke="#000" stroke-width="1.20" fill="none"/>
<path d="M659.4 168.6V193.1 M657.3 168.6h4.2 M657.3 193.1h4.2" stroke="#000" stroke-width="1.20" fill="none"/>
<path d="M668.6 181.6V209.6 M666.5 181.6h4.2 M666.5 209.6h4.2" stroke="#000" stroke-width="1.20" fill="none"/>
<path d="M577.6 191.6V215.1 M575.5 191.6h4.2 M575.5 215.1h4.2" stroke="#000" stroke-width="1.20" fill="none"/>
<path d="M590.9 206.2V238.7 M588.8 206.2h4.2 M588.8 238.7h4.2" stroke="#000" stroke-width="1.20" fill="none"/>
<path d="M611.3 170.0V200.5 M609.2 170.0h4.2 M609.2 200.5h4.2" stroke="#000" stroke-width="1.20" fill="none"/>
<path d="M632.2 200.0V230.5 M630.1 200.0h4.2 M630.1 230.5h4.2" stroke="#000" stroke-width="1.20" fill="none"/>
<path d="M699.9 167.0V198.3 M697.8 167.0h4.2 M697.8 198.3h4.2" stroke="#000" stroke-width="1.20" fill="none"/>
<path d="M699.9 172.0V192.5 M697.8 172.0h4.2 M697.8 192.5h4.2" stroke="#000" stroke-width="1.20" fill="none"/>
<path d="M728.6 162.6V200.0 M726.5 162.6h4.2 M726.5 200.0h4.2" stroke="#000" stroke-width="1.20" fill="none"/>
<path d="M728.6 168.0V194.5 M726.5 168.0h4.2 M726.5 194.5h4.2" stroke="#000" stroke-width="1.20" fill="none"/>
<path d="M755.9 132.0V162.5 M753.8 132.0h4.2 M753.8 162.5h4.2" stroke="#000" stroke-width="1.20" fill="none"/>
<path d="M555.1 170.5V180.0 M553.0 170.5h4.2 M553.0 180.0h4.2" stroke="#000" stroke-width="1.20" fill="none"/>
<path d="M648.5 157.3V181.0 M646.4 157.3h4.2 M646.4 181.0h4.2" stroke="#000" stroke-width="1.20" fill="none"/>
<rect x="458.9" y="178.2" width="6.7" height="6.7" fill="#fff" stroke="#000" stroke-width="1.3"/>
<rect x="611.5" y="151.8" width="6.7" height="6.7" fill="#fff" stroke="#000" stroke-width="1.3"/>
<rect x="628.2" y="173.2" width="6.7" height="6.7" fill="#fff" stroke="#000" stroke-width="1.3"/>
<rect x="607.9" y="181.3" width="6.7" height="6.7" fill="#fff" stroke="#000" stroke-width="1.3"/>
<rect x="617.5" y="189.2" width="6.7" height="6.7" fill="#fff" stroke="#000" stroke-width="1.3"/>
<rect x="644.5" y="178.2" width="6.7" height="6.7" fill="#fff" stroke="#000" stroke-width="1.3"/>
<rect x="627.0" y="194.5" width="6.7" height="6.7" fill="#fff" stroke="#000" stroke-width="1.3"/>
<rect x="574.2" y="201.2" width="6.7" height="6.7" fill="#fff" stroke="#000" stroke-width="1.3"/>
<rect x="574.2" y="198.7" width="6.7" height="6.7" fill="#fff" stroke="#000" stroke-width="1.3"/>
<rect x="615.9" y="189.5" width="6.7" height="6.7" fill="#fff" stroke="#000" stroke-width="1.3"/>
<rect x="587.5" y="219.3" width="6.7" height="6.7" fill="#fff" stroke="#000" stroke-width="1.3"/>
<rect x="628.9" y="208.2" width="6.7" height="6.7" fill="#fff" stroke="#000" stroke-width="1.3"/>
<rect x="628.9" y="232.2" width="6.7" height="6.7" fill="#fff" stroke="#000" stroke-width="1.3"/>
<rect x="438.6" y="194.0" width="8.0" height="8.0" fill="#000" stroke="#fff" stroke-width="0.8"/>
<rect x="479.8" y="192.9" width="8.0" height="8.0" fill="#000" stroke="#fff" stroke-width="0.8"/>
<rect x="492.8" y="195.6" width="8.0" height="8.0" fill="#000" stroke="#fff" stroke-width="0.8"/>
<rect x="511.6" y="182.3" width="8.0" height="8.0" fill="#000" stroke="#fff" stroke-width="0.8"/>
<rect x="532.8" y="167.6" width="8.0" height="8.0" fill="#000" stroke="#fff" stroke-width="0.8"/>
<rect x="540.3" y="165.5" width="8.0" height="8.0" fill="#000" stroke="#fff" stroke-width="0.8"/>
<rect x="551.1" y="171.2" width="8.0" height="8.0" fill="#000" stroke="#fff" stroke-width="0.8"/>
<rect x="569.2" y="180.5" width="8.0" height="8.0" fill="#000" stroke="#fff" stroke-width="0.8"/>
<rect x="597.9" y="178.2" width="8.0" height="8.0" fill="#000" stroke="#fff" stroke-width="0.8"/>
<rect x="623.0" y="150.3" width="8.0" height="8.0" fill="#000" stroke="#fff" stroke-width="0.8"/>
<rect x="598.1" y="177.9" width="8.0" height="8.0" fill="#000" stroke="#fff" stroke-width="0.8"/>
<rect x="639.1" y="181.1" width="8.0" height="8.0" fill="#000" stroke="#fff" stroke-width="0.8"/>
<rect x="655.4" y="176.5" width="8.0" height="8.0" fill="#000" stroke="#fff" stroke-width="0.8"/>
<rect x="664.8" y="191.7" width="8.0" height="8.0" fill="#000" stroke="#fff" stroke-width="0.8"/>
<rect x="695.9" y="182.9" width="8.0" height="8.0" fill="#000" stroke="#fff" stroke-width="0.8"/>
<rect x="695.9" y="176.4" width="8.0" height="8.0" fill="#000" stroke="#fff" stroke-width="0.8"/>
<rect x="724.6" y="182.9" width="8.0" height="8.0" fill="#000" stroke="#fff" stroke-width="0.8"/>
<rect x="724.6" y="176.4" width="8.0" height="8.0" fill="#000" stroke="#fff" stroke-width="0.8"/>
<rect x="635.6" y="214.0" width="8.0" height="8.0" fill="#000" stroke="#fff" stroke-width="0.8"/>
<path d="M752.4 129.3h7.0l-3.5 6.8z" fill="#fff" stroke="#000" stroke-width="1.3"/>
</g>
<text font-size="12" fill="#ff0808" stroke="#ff0808" stroke-width="0.22"><tspan x="616.6" y="140.4" font-style="italic">L</tspan><tspan x="623.3" y="143.0" font-size="8.4">IR</tspan><tspan x="635.6" y="140.4">=</tspan><tspan x="648" y="140.4">10</tspan><tspan x="663.6" y="135.8" font-size="8.6">12.0</tspan><tspan x="685.6" y="140.4">~</tspan><tspan x="698.6" y="140.4">10</tspan><tspan x="714.2" y="135.8" font-size="8.6">12.5</tspan><tspan x="733.6" y="140.4">L</tspan><tspan x="741.8" y="143.4" font-size="9.6">⊙</tspan></text>
<text x="749" y="154" font-size="12" text-anchor="end" fill="#ff0808" stroke="#ff0808" stroke-width="0.22">(ULIRGs)</text>
<text x="753.4" y="241.4" font-size="10.9" text-anchor="end" fill="#ff0808" stroke="#ff0808" stroke-width="0.22"><tspan font-style="italic">p</tspan>-value=0.71</text>
<g transform="translate(753.6,216.5) rotate(-90)"><text font-size="10.1" font-weight="bold" fill="#4a4a4a" stroke="#4a4a4a" stroke-width="0.22">Incomplete</text></g>
<text x="441.7" y="136.7" font-size="9.5" font-weight="bold" fill="#f7913d" stroke="#f7913d" stroke-width="0.22">AS2UDS (850μm)</text>
<rect x="434.5" y="1.8" width="322.0" height="120.1" fill="none" stroke="#3a3a3a" stroke-width="1.15"/>
<line x1="431.6" x2="434.5" y1="117.8" y2="117.8" stroke="#000" stroke-width="0.8"/>
<text x="429.3" y="122.2" font-size="11.7" text-anchor="end" stroke="#000" stroke-width="0.22">20</text>
<line x1="431.6" x2="434.5" y1="97.1" y2="97.1" stroke="#000" stroke-width="0.8"/>
<text x="429.3" y="101.5" font-size="11.7" text-anchor="end" stroke="#000" stroke-width="0.22">25</text>
<line x1="431.6" x2="434.5" y1="76.4" y2="76.4" stroke="#000" stroke-width="0.8"/>
<text x="429.3" y="80.8" font-size="11.7" text-anchor="end" stroke="#000" stroke-width="0.22">30</text>
<line x1="431.6" x2="434.5" y1="55.7" y2="55.7" stroke="#000" stroke-width="0.8"/>
<text x="429.3" y="60.1" font-size="11.7" text-anchor="end" stroke="#000" stroke-width="0.22">35</text>
<line x1="431.6" x2="434.5" y1="35.0" y2="35.0" stroke="#000" stroke-width="0.8"/>
<text x="429.3" y="39.4" font-size="11.7" text-anchor="end" stroke="#000" stroke-width="0.22">40</text>
<line x1="431.6" x2="434.5" y1="14.3" y2="14.3" stroke="#000" stroke-width="0.8"/>
<text x="429.3" y="18.7" font-size="11.7" text-anchor="end" stroke="#000" stroke-width="0.22">45</text>
<line x1="473.3" x2="473.3" y1="121.9" y2="124.8" stroke="#000" stroke-width="0.8"/>
<line x1="594.0" x2="594.0" y1="121.9" y2="124.8" stroke="#000" stroke-width="0.8"/>
<line x1="664.6" x2="664.6" y1="121.9" y2="124.8" stroke="#000" stroke-width="0.8"/>
<line x1="714.7" x2="714.7" y1="121.9" y2="124.8" stroke="#000" stroke-width="0.8"/>
<line x1="753.6" x2="753.6" y1="121.9" y2="124.8" stroke="#000" stroke-width="0.8"/>
<rect x="434.5" y="126.8" width="322.0" height="119.8" fill="none" stroke="#3a3a3a" stroke-width="1.15"/>
<line x1="431.6" x2="434.5" y1="242.6" y2="242.6" stroke="#000" stroke-width="0.8"/>
<text x="429.3" y="247.0" font-size="11.7" text-anchor="end" stroke="#000" stroke-width="0.22">20</text>
<line x1="431.6" x2="434.5" y1="221.9" y2="221.9" stroke="#000" stroke-width="0.8"/>
<text x="429.3" y="226.3" font-size="11.7" text-anchor="end" stroke="#000" stroke-width="0.22">25</text>
<line x1="431.6" x2="434.5" y1="201.2" y2="201.2" stroke="#000" stroke-width="0.8"/>
<text x="429.3" y="205.6" font-size="11.7" text-anchor="end" stroke="#000" stroke-width="0.22">30</text>
<line x1="431.6" x2="434.5" y1="180.5" y2="180.5" stroke="#000" stroke-width="0.8"/>
<text x="429.3" y="184.9" font-size="11.7" text-anchor="end" stroke="#000" stroke-width="0.22">35</text>
<line x1="431.6" x2="434.5" y1="159.8" y2="159.8" stroke="#000" stroke-width="0.8"/>
<text x="429.3" y="164.2" font-size="11.7" text-anchor="end" stroke="#000" stroke-width="0.22">40</text>
<line x1="431.6" x2="434.5" y1="139.1" y2="139.1" stroke="#000" stroke-width="0.8"/>
<text x="429.3" y="143.5" font-size="11.7" text-anchor="end" stroke="#000" stroke-width="0.22">45</text>
<line x1="473.3" x2="473.3" y1="246.6" y2="249.5" stroke="#000" stroke-width="0.8"/>
<line x1="594.0" x2="594.0" y1="246.6" y2="249.5" stroke="#000" stroke-width="0.8"/>
<line x1="664.6" x2="664.6" y1="246.6" y2="249.5" stroke="#000" stroke-width="0.8"/>
<line x1="714.7" x2="714.7" y1="246.6" y2="249.5" stroke="#000" stroke-width="0.8"/>
<line x1="753.6" x2="753.6" y1="246.6" y2="249.5" stroke="#000" stroke-width="0.8"/>
<text x="473.3" y="261.3" font-size="11.7" text-anchor="middle" stroke="#000" stroke-width="0.22">1</text>
<text x="594.0" y="261.3" font-size="11.7" text-anchor="middle" stroke="#000" stroke-width="0.22">2</text>
<text x="664.6" y="261.3" font-size="11.7" text-anchor="middle" stroke="#000" stroke-width="0.22">3</text>
<text x="714.7" y="261.3" font-size="11.7" text-anchor="middle" stroke="#000" stroke-width="0.22">4</text>
<text x="753.6" y="261.3" font-size="11.7" text-anchor="middle" stroke="#000" stroke-width="0.22">5</text>
<text x="596.3" y="275.3" font-size="12" text-anchor="middle" stroke="#000" stroke-width="0.22">Redshift</text>
<g transform="translate(409.2,85.3) rotate(-90)"><text font-size="12.4" stroke="#000" stroke-width="0.22"><tspan x="0" y="0" font-style="italic">T</tspan><tspan x="8.3" y="1.4" font-size="8.1">dust</tspan><tspan x="29.8" y="0" font-size="12">(K)</tspan></text></g>
<g transform="translate(409.2,210.3) rotate(-90)"><text font-size="12.4" stroke="#000" stroke-width="0.22"><tspan x="0" y="0" font-style="italic">T</tspan><tspan x="8.3" y="1.4" font-size="8.1">dust</tspan><tspan x="29.8" y="0" font-size="12">(K)</tspan></text></g>
</svg></body></html>
